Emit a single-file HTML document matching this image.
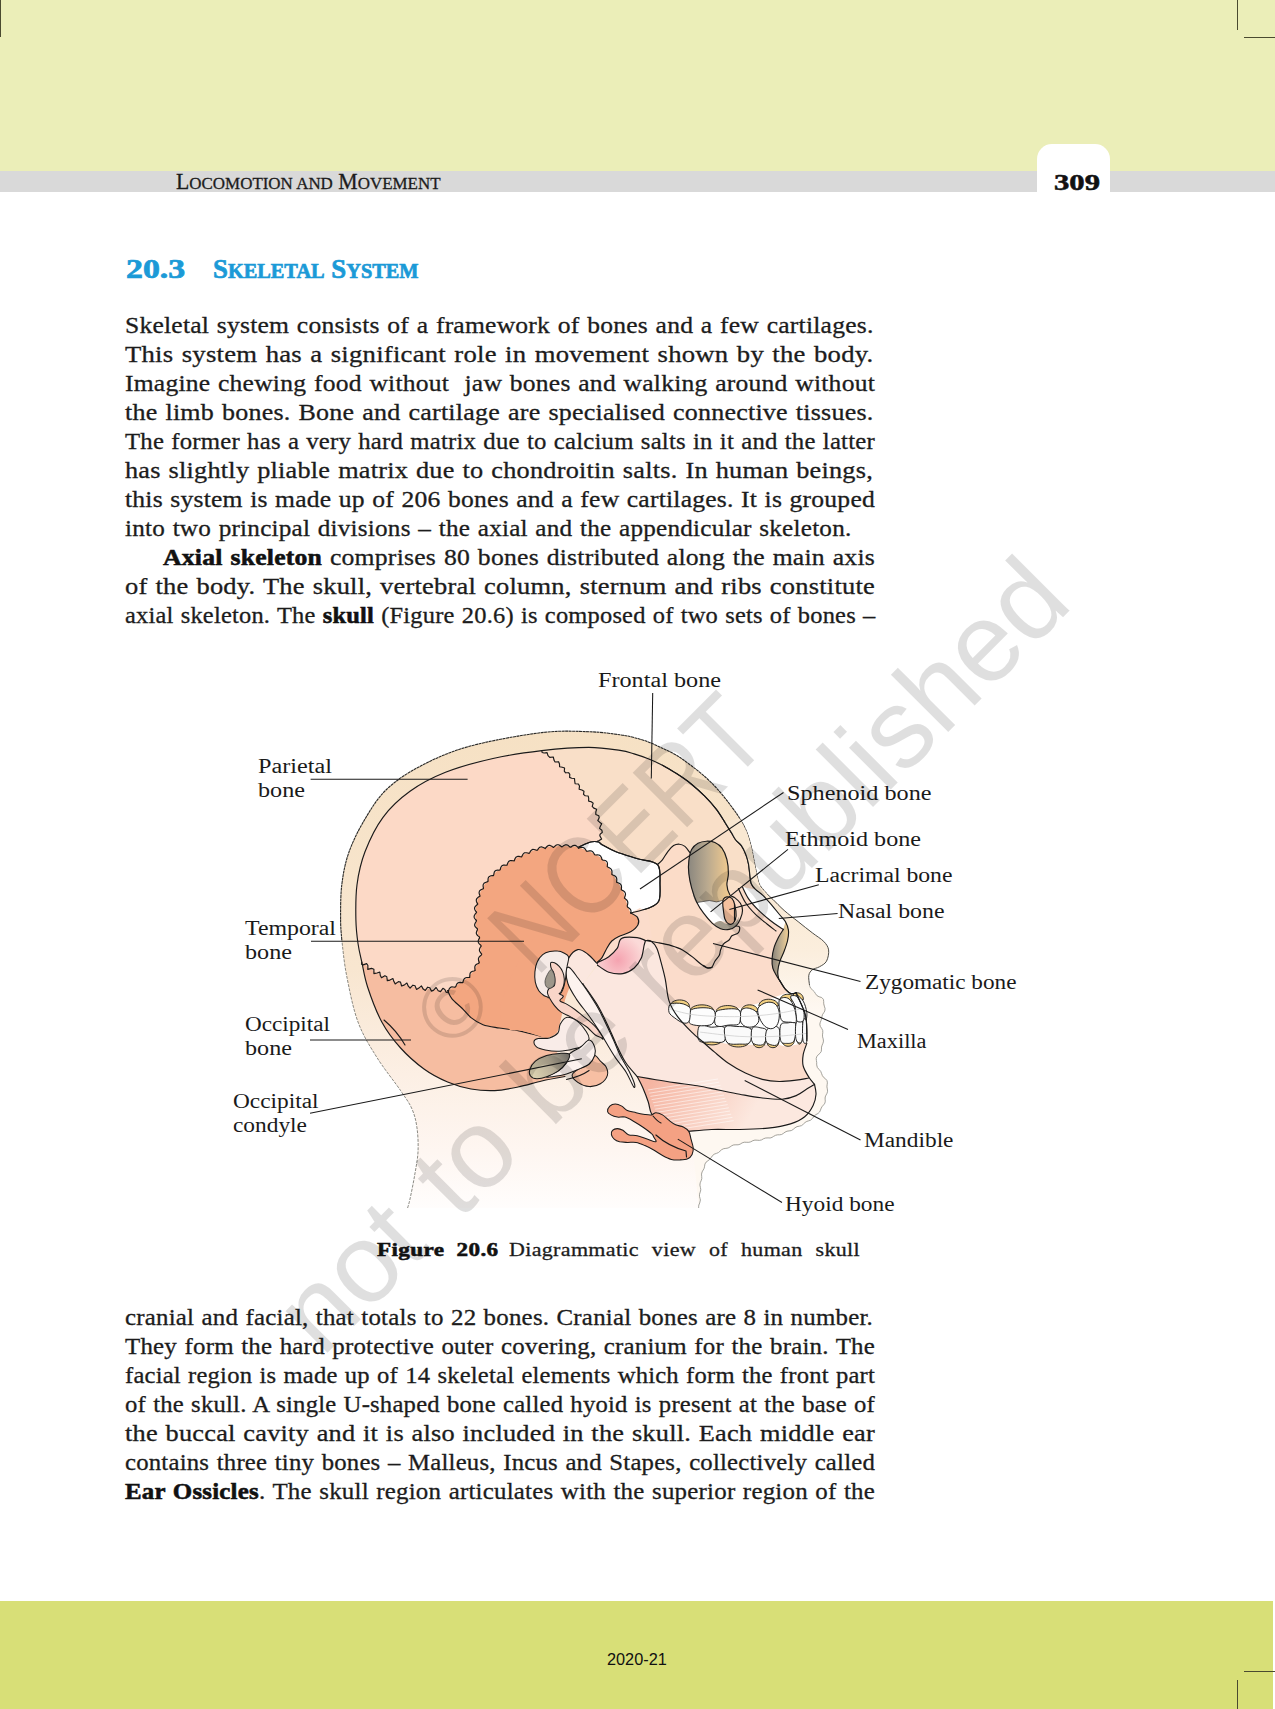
<!DOCTYPE html>
<html><head><meta charset="utf-8"><title>Locomotion and Movement</title>
<style>
html,body{margin:0;padding:0;background:#fff;}
body{width:1275px;height:1709px;position:relative;overflow:hidden;font-family:"Liberation Serif",serif;color:#1a1a1a;}
.abs{position:absolute;}
.ln{position:absolute;white-space:nowrap;line-height:29px;transform-origin:0 0;font-family:"Liberation Serif",serif;color:#1c1c1c;-webkit-text-stroke:0.3px #1c1c1c;}
.ln b{font-weight:bold;color:#111;-webkit-text-stroke:0.55px #111;}
#topband{left:0;top:0;width:1275px;height:171px;background:#ebeeb8;}
#grayband{left:0;top:171px;width:1275px;height:21px;background:#d9d9d9;}
#tab{left:1037px;top:144px;width:73px;height:50px;background:#fff;border-radius:15px 15px 0 0;}
#botband{left:0;top:1601px;width:1273px;height:108px;background:#d8df77;}
.cm{background:#4a4a30;}
svg text{font-family:"Liberation Serif",serif;}
</style></head><body>
<div class="abs" id="topband"></div>
<div class="abs" id="grayband"></div>
<div class="abs" id="tab"></div>
<div class="abs" id="botband"></div>
<div class="abs cm" style="left:0;top:0;width:1px;height:37px;"></div>
<div class="abs cm" style="left:1237px;top:0;width:1px;height:30px;"></div>
<div class="abs cm" style="left:1244px;top:37px;width:31px;height:1px;"></div>
<div class="abs cm" style="left:1244px;top:1671px;width:31px;height:1px;"></div>
<div class="abs cm" style="left:1237px;top:1680px;width:1px;height:29px;"></div>
<svg class="abs" id="fig" style="left:0;top:0" width="1275" height="1709" viewBox="0 0 1275 1709">
<defs>
<linearGradient id="gSkin" gradientUnits="userSpaceOnUse" x1="0" y1="730" x2="0" y2="1208">
<stop offset="0" stop-color="#f6e1c4"/><stop offset="0.5" stop-color="#f8e6d0"/><stop offset="0.72" stop-color="#fcefe4"/><stop offset="0.88" stop-color="#fef6f1"/><stop offset="1" stop-color="#fffdfc"/></linearGradient>
<linearGradient id="gOrb" gradientUnits="userSpaceOnUse" x1="690" y1="0" x2="728" y2="0">
<stop offset="0" stop-color="#8f8a80"/><stop offset="0.45" stop-color="#b9a98f"/><stop offset="1" stop-color="#efc98f"/></linearGradient>
<linearGradient id="gNas" gradientUnits="userSpaceOnUse" x1="770" y1="0" x2="788" y2="0">
<stop offset="0" stop-color="#7d7870"/><stop offset="0.5" stop-color="#b5a78e"/><stop offset="1" stop-color="#f0cf95"/></linearGradient>
<linearGradient id="gCond" gradientUnits="userSpaceOnUse" x1="530" y1="1075" x2="572" y2="1052">
<stop offset="0" stop-color="#e0d6b4"/><stop offset="0.5" stop-color="#b8ae98"/><stop offset="1" stop-color="#5f5d5a"/></linearGradient>
<radialGradient id="gDisc" gradientUnits="userSpaceOnUse" cx="618" cy="960" r="26">
<stop offset="0" stop-color="#f5a3b0"/><stop offset="1" stop-color="#fbdad8"/></radialGradient>
<linearGradient id="gBand" gradientUnits="userSpaceOnUse" x1="0" y1="880" x2="0" y2="1010">
<stop offset="0" stop-color="#f9e8d2"/><stop offset="0.55" stop-color="#fbeedd"/><stop offset="1" stop-color="#fef8f1"/></linearGradient>
<linearGradient id="gMus" gradientUnits="userSpaceOnUse" x1="650" y1="1085" x2="740" y2="1135">
<stop offset="0" stop-color="#f5b5a2"/><stop offset="1" stop-color="#fce8df"/></linearGradient>
</defs>
<path d="M407.6,1208.0C408.0,1206.5 408.8,1204.5 410.0,1199.0C411.2,1193.5 413.4,1182.8 414.7,1175.0C416.0,1167.2 417.6,1159.8 418.0,1152.0C418.4,1144.2 418.0,1135.2 417.0,1128.0C416.0,1120.8 414.7,1115.2 412.0,1109.0C409.3,1102.8 406.4,1099.2 400.6,1090.6C394.8,1082.0 384.1,1069.0 377.0,1057.6C369.9,1046.2 363.1,1035.8 358.0,1022.0C352.9,1008.2 349.2,988.7 346.5,975.0C343.8,961.3 342.8,949.2 341.8,940.0C340.8,930.8 340.6,929.2 340.6,920.0C340.6,910.8 340.4,896.0 341.8,884.7C343.2,873.4 345.1,863.0 349.0,852.0C352.9,841.0 358.7,829.5 365.0,819.0C371.3,808.5 377.5,798.0 387.0,789.0C396.5,780.0 408.2,772.4 422.0,765.3C435.8,758.2 449.5,751.8 469.5,746.3C489.5,740.8 521.7,735.0 541.8,732.6C561.9,730.2 577.0,731.4 590.0,731.8C603.0,732.2 612.6,733.8 620.0,734.8C627.4,735.8 629.4,736.4 634.1,737.6C638.8,738.8 643.5,740.1 648.2,741.9C652.9,743.7 657.7,746.0 662.4,748.2C667.1,750.4 671.8,752.5 676.5,755.3C681.2,758.1 688.2,763.6 690.6,765.2L704.7,776.5C707.1,778.9 714.6,785.9 718.8,790.6C723.0,795.3 726.6,800.0 730.1,804.7C733.6,809.4 737.2,814.1 740.0,818.8C742.8,823.5 745.2,828.2 747.1,832.9C749.0,837.6 750.1,842.4 751.3,847.1C752.5,851.8 753.1,856.5 754.1,861.2C755.1,865.9 756.0,871.3 757.0,875.3C758.0,879.3 758.2,882.1 759.8,885.2C761.4,888.3 764.6,891.3 766.8,893.7C769.0,896.1 770.1,896.7 773.0,899.5C775.9,902.3 779.9,906.7 784.1,910.4C788.3,914.1 793.5,918.0 798.2,921.7C802.9,925.5 808.1,929.6 812.4,932.9C816.6,936.2 821.0,938.6 823.7,941.4C826.4,944.2 828.1,946.6 828.6,949.9C829.1,953.2 828.0,958.4 826.5,961.2C825.0,964.0 821.8,965.4 819.4,966.8C817.0,968.2 814.2,968.3 812.4,969.7C810.6,971.1 809.3,972.7 808.8,975.3C808.3,977.9 808.4,982.1 809.5,985.2C810.6,988.3 813.0,991.3 815.2,993.7C817.5,996.1 821.5,996.7 823.0,999.6C824.5,1002.5 824.9,1007.1 824.4,1010.9C823.9,1014.7 820.4,1018.2 820.2,1022.2C820.0,1026.2 822.8,1030.4 823.0,1034.9C823.2,1039.4 822.8,1044.8 821.6,1049.1C820.4,1053.3 816.2,1056.7 816.0,1060.4C815.8,1064.2 818.3,1067.8 820.2,1071.6C822.1,1075.3 826.3,1078.7 827.2,1082.9C828.1,1087.2 826.7,1092.8 825.8,1097.1C824.9,1101.3 824.2,1104.6 821.6,1108.4C819.0,1112.2 815.7,1116.0 810.3,1119.7C804.9,1123.5 796.1,1127.9 789.1,1130.9C782.1,1134.0 775.0,1136.1 768.0,1138.0C761.0,1139.9 753.1,1140.8 746.8,1142.2C740.5,1143.7 735.1,1144.9 730.0,1146.7C724.9,1148.5 720.4,1150.4 716.3,1153.3C712.2,1156.2 707.9,1159.7 705.3,1164.3C702.7,1168.9 701.8,1174.8 700.9,1180.8C700.0,1186.8 700.1,1195.5 699.8,1200.0C699.5,1204.5 699.1,1206.7 699.0,1208.0Z" fill="url(#gSkin)"/>
<path d="M407.6,1208.0C408.0,1206.5 408.8,1204.5 410.0,1199.0C411.2,1193.5 413.4,1182.8 414.7,1175.0C416.0,1167.2 417.6,1159.8 418.0,1152.0C418.4,1144.2 418.0,1135.2 417.0,1128.0C416.0,1120.8 414.7,1115.2 412.0,1109.0C409.3,1102.8 406.4,1099.2 400.6,1090.6C394.8,1082.0 384.1,1069.0 377.0,1057.6C369.9,1046.2 363.1,1035.8 358.0,1022.0C352.9,1008.2 349.2,988.7 346.5,975.0C343.8,961.3 342.6,945.8 341.8,940.0" fill="none" stroke="#6d6d66" stroke-width="0.8" stroke-dasharray="3 1.2"/>
<path d="M341.8,940.0C341.6,936.7 340.6,929.2 340.6,920.0C340.6,910.8 340.4,896.0 341.8,884.7C343.2,873.4 345.1,863.0 349.0,852.0C352.9,841.0 358.7,829.5 365.0,819.0C371.3,808.5 377.5,798.0 387.0,789.0C396.5,780.0 408.2,772.4 422.0,765.3C435.8,758.2 449.5,751.8 469.5,746.3C489.5,740.8 521.7,735.0 541.8,732.6C561.9,730.2 577.0,731.4 590.0,731.8C603.0,732.2 612.6,733.8 620.0,734.8C627.4,735.8 629.4,736.4 634.1,737.6C638.8,738.8 643.5,740.1 648.2,741.9C652.9,743.7 657.7,746.0 662.4,748.2C667.1,750.4 671.8,752.5 676.5,755.3C681.2,758.1 685.9,761.7 690.6,765.2C695.3,768.7 700.0,772.3 704.7,776.5C709.4,780.7 714.6,785.9 718.8,790.6C723.0,795.3 726.6,800.0 730.1,804.7C733.6,809.4 737.2,814.1 740.0,818.8C742.8,823.5 745.2,828.2 747.1,832.9C749.0,837.6 750.1,842.4 751.3,847.1C752.5,851.8 753.1,856.5 754.1,861.2C755.1,865.9 756.0,871.3 757.0,875.3C758.0,879.3 758.2,882.1 759.8,885.2C761.4,888.3 765.6,892.3 766.8,893.7" fill="none" stroke="#2a2a28" stroke-width="1.1" stroke-dasharray="3 0.5"/>
<path d="M361.8,962.0C361.2,958.9 359.0,950.5 358.0,943.5C357.0,936.5 356.1,929.8 355.9,920.0C355.7,910.2 355.5,896.1 357.0,884.7C358.5,873.3 360.7,863.0 365.0,851.8C369.3,840.6 375.5,827.4 383.0,817.3C390.5,807.2 399.6,798.8 410.0,791.3C420.4,783.8 431.7,777.8 445.5,772.3C459.3,766.8 476.9,762.1 493.0,758.5C509.1,754.9 533.7,751.9 541.8,750.6L541.8,750.6C544.1,752.3 552.0,757.7 555.9,761.0C559.8,764.3 561.9,767.3 565.0,770.6C568.1,773.9 571.7,777.4 574.7,781.0C577.7,784.6 580.3,788.5 583.0,792.0C585.7,795.5 588.7,798.3 591.0,802.0C593.3,805.7 595.4,810.0 597.0,814.0C598.6,818.0 599.9,822.3 600.6,826.0C601.3,829.7 601.4,833.3 601.0,836.0C600.6,838.7 598.9,841.0 598.5,842.0L598.5,842.0C597.2,842.0 593.9,841.2 590.6,842.0C587.3,842.8 580.8,846.2 578.8,847.0L578.8,847.0C575.8,846.8 566.8,845.7 560.6,845.9C554.4,846.1 548.1,846.5 541.8,848.0C535.5,849.5 529.3,852.0 523.0,855.0C516.7,858.0 509.5,862.1 504.0,865.9C498.5,869.7 493.9,873.3 490.0,877.6C486.1,881.9 483.0,886.7 480.6,891.8C478.2,896.9 476.7,902.5 475.9,908.0C475.1,913.5 475.3,919.2 475.9,924.7C476.5,930.2 478.6,936.0 479.4,941.0C480.2,946.0 481.2,950.7 480.6,955.0C480.0,959.3 477.9,963.4 475.9,967.0C473.9,970.6 471.6,973.8 468.8,976.5C466.1,979.2 462.9,981.1 459.4,983.5C455.9,985.9 449.6,989.4 447.6,990.6L447.6,990.6C445.2,990.4 439.0,990.0 433.5,989.4C428.0,988.8 421.0,988.2 414.7,987.0C408.4,985.8 402.2,984.3 395.9,982.0C389.6,979.7 382.7,976.3 377.0,973.0C371.3,969.7 364.3,963.8 361.8,962.0Z" fill="#fcd9c6"/>
<path d="M565.0,1076.5C561.1,1077.2 549.6,1079.2 541.8,1081.0C534.0,1082.8 525.9,1085.4 518.0,1087.0C510.1,1088.6 502.5,1090.3 494.7,1090.6C486.9,1090.9 478.9,1090.4 471.0,1089.0C463.1,1087.6 455.4,1085.3 447.6,1082.0C439.8,1078.7 431.8,1074.7 424.0,1069.0C416.2,1063.3 407.6,1055.8 400.6,1048.0C393.6,1040.2 387.3,1032.2 381.8,1022.0C376.3,1011.8 370.9,997.0 367.6,987.0C364.3,977.0 362.8,966.2 361.8,962.0L361.8,962.0C364.3,963.8 371.3,969.7 377.0,973.0C382.7,976.3 389.6,979.7 395.9,982.0C402.2,984.3 408.4,985.8 414.7,987.0C421.0,988.2 428.0,988.8 433.5,989.4C439.0,990.0 445.2,990.4 447.6,990.6L447.6,990.6C448.3,992.0 449.6,995.9 452.0,998.8C454.4,1001.7 458.6,1004.9 461.8,1008.0C465.0,1011.1 467.5,1014.8 471.0,1017.6C474.5,1020.4 478.3,1023.0 483.0,1024.7C487.7,1026.4 493.6,1027.0 499.4,1028.0C505.2,1029.0 512.6,1029.6 518.0,1030.6C523.4,1031.6 528.0,1033.0 532.0,1034.0C536.0,1035.0 540.2,1036.1 541.8,1036.5L541.8,1036.5C544.2,1038.8 552.1,1043.3 556.0,1050.0C559.9,1056.7 563.5,1072.1 565.0,1076.5Z" fill="#f6bda1"/>
<path d="M541.8,750.6C549.6,750.0 575.8,747.3 588.8,747.3C601.8,747.3 612.5,749.3 620.0,750.4C627.5,751.5 629.4,752.5 634.1,753.9C638.8,755.3 643.5,756.9 648.2,758.8C652.9,760.7 657.7,762.7 662.4,765.2C667.1,767.7 671.8,770.6 676.5,773.6C681.2,776.6 685.9,779.7 690.6,783.5C695.3,787.3 700.5,792.0 704.7,796.2C708.9,800.4 712.7,804.7 716.0,808.9C719.3,813.1 723.1,819.5 724.5,821.6L724.5,821.6C725.7,823.5 729.6,829.8 731.5,832.9C733.4,836.0 734.1,837.9 735.8,840.0C737.4,842.1 739.8,843.2 741.4,845.6C743.0,848.0 744.5,851.0 745.7,854.1C746.9,857.2 747.8,860.5 748.5,864.0C749.2,867.5 749.4,872.0 749.9,875.3C750.4,878.6 750.4,881.4 751.3,883.8C752.2,886.1 753.6,887.5 755.5,889.4C757.4,891.3 760.2,892.8 762.6,895.1C765.0,897.4 767.1,899.8 770.0,903.1C772.9,906.4 777.3,911.9 779.9,915.0C782.5,918.1 784.1,919.2 785.5,921.7C786.9,924.2 788.0,927.1 788.4,930.1C788.8,933.1 788.4,936.5 787.7,940.0C787.0,943.5 785.4,947.8 784.1,951.3C782.8,954.8 781.0,957.9 779.9,961.2C778.8,964.5 778.0,968.3 777.8,971.1C777.6,973.9 778.1,976.5 778.5,978.1C778.9,979.7 778.7,979.0 779.9,980.9C781.1,982.8 783.6,987.3 785.5,989.4C787.4,991.5 789.4,993.2 791.2,993.7C793.0,994.2 795.4,992.8 796.2,992.6L795.0,993.0C785.8,994.2 760.5,998.5 740.0,1000.0C719.5,1001.5 685.3,1008.7 672.0,1002.0C658.7,995.3 665.3,971.2 660.0,960.0C654.7,948.8 644.9,942.8 640.0,935.0C635.1,927.2 632.2,916.7 630.6,913.0L630.6,913.0C633.7,912.2 644.3,910.0 649.0,908.0C653.7,906.0 657.0,904.9 658.8,901.0C660.6,897.1 660.2,890.8 660.0,884.7C659.8,878.7 661.3,869.0 657.6,864.7C653.9,860.4 644.5,860.9 637.6,858.8C630.7,856.6 621.9,854.1 616.0,851.8C610.1,849.4 604.9,846.3 602.0,844.7C599.1,843.1 599.1,842.5 598.5,842.0L598.5,842.0C598.9,841.0 600.6,838.7 601.0,836.0C601.4,833.3 601.3,829.7 600.6,826.0C599.9,822.3 598.6,818.0 597.0,814.0C595.4,810.0 593.3,805.7 591.0,802.0C588.7,798.3 585.7,795.5 583.0,792.0C580.3,788.5 577.7,784.6 574.7,781.0C571.7,777.4 568.1,773.9 565.0,770.6C561.9,767.3 559.8,764.3 555.9,761.0C552.0,757.7 544.1,752.3 541.8,750.6Z" fill="#fbdcc8"/>
<path d="M541.8,750.6C549.6,750.0 575.8,747.3 588.8,747.3C601.8,747.3 612.5,749.3 620.0,750.4C627.5,751.5 629.4,752.5 634.1,753.9C638.8,755.3 643.5,756.9 648.2,758.8C652.9,760.7 657.7,762.7 662.4,765.2C667.1,767.7 671.8,770.6 676.5,773.6C681.2,776.6 685.9,779.7 690.6,783.5C695.3,787.3 700.5,792.0 704.7,796.2C708.9,800.4 712.7,804.7 716.0,808.9C719.3,813.1 723.1,819.5 724.5,821.6L724.5,821.6C725.7,823.5 729.6,829.8 731.5,832.9C733.4,836.0 734.1,837.9 735.8,840.0C737.4,842.1 739.8,843.2 741.4,845.6C743.0,848.0 744.5,851.0 745.7,854.1C746.9,857.2 747.8,860.5 748.5,864.0C749.2,867.5 749.4,872.0 749.9,875.3C750.4,878.6 751.1,882.4 751.3,883.8L742.8,885.2C741.9,885.8 739.2,887.4 737.2,888.7C735.2,890.0 732.0,892.3 731.0,893.0L729.8,894.8C729.3,893.1 727.1,888.4 726.9,884.9C726.7,881.4 728.4,877.8 728.4,873.6C728.4,869.4 728.0,863.7 726.9,859.5C725.8,855.3 724.0,851.0 722.0,848.2C720.0,845.4 717.5,843.8 714.9,842.6C712.3,841.4 709.3,841.1 706.5,841.2C703.7,841.3 700.5,841.9 698.0,843.3C695.5,844.7 693.0,848.0 691.6,849.6C690.2,851.2 690.2,852.2 689.9,852.7L689.9,852.7C689.1,851.7 686.7,847.8 684.9,846.4C683.1,845.0 681.2,844.3 679.3,844.2C677.4,844.1 675.5,844.4 673.6,845.6C671.7,846.8 669.9,848.9 668.0,851.3C666.1,853.7 664.2,857.6 662.4,859.8C660.6,862.0 658.2,863.9 657.4,864.7L657.6,864.7C654.3,863.7 644.5,860.9 637.6,858.8C630.7,856.6 621.9,854.1 616.0,851.8C610.1,849.4 604.9,846.3 602.0,844.7C599.1,843.1 599.1,842.5 598.5,842.0L598.5,842.0C598.9,841.0 600.6,838.7 601.0,836.0C601.4,833.3 601.3,829.7 600.6,826.0C599.9,822.3 598.6,818.0 597.0,814.0C595.4,810.0 593.3,805.7 591.0,802.0C588.7,798.3 585.7,795.5 583.0,792.0C580.3,788.5 577.7,784.6 574.7,781.0C571.7,777.4 568.1,773.9 565.0,770.6C561.9,767.3 559.8,764.3 555.9,761.0C552.0,757.7 544.1,752.3 541.8,750.6Z" fill="#f9dfc8"/>
<path d="M447.6,990.6C449.6,989.4 455.9,985.9 459.4,983.5C462.9,981.1 466.1,979.2 468.8,976.5C471.6,973.8 473.9,970.6 475.9,967.0C477.9,963.4 480.0,959.3 480.6,955.0C481.2,950.7 480.2,946.0 479.4,941.0C478.6,936.0 476.5,930.2 475.9,924.7C475.3,919.2 475.1,913.5 475.9,908.0C476.7,902.5 478.2,896.9 480.6,891.8C483.0,886.7 486.1,881.9 490.0,877.6C493.9,873.3 498.5,869.7 504.0,865.9C509.5,862.1 516.7,858.0 523.0,855.0C529.3,852.0 535.5,849.5 541.8,848.0C548.1,846.5 554.4,846.1 560.6,845.9C566.8,845.7 575.8,846.8 578.8,847.0L578.8,847.0C581.5,848.2 590.7,851.7 595.0,854.0C599.3,856.3 602.1,858.2 604.7,861.0C607.3,863.8 608.6,867.4 610.6,870.6C612.6,873.8 614.4,876.5 616.5,880.0C618.6,883.5 621.8,887.9 623.5,891.8C625.2,895.7 625.8,900.0 627.0,903.5C628.2,907.0 630.0,911.4 630.6,913.0L630.6,913.0C631.8,913.8 636.4,915.6 637.6,917.6C638.8,919.6 639.2,922.3 638.0,924.7C636.8,927.1 633.8,929.8 630.6,931.8C627.4,933.8 621.9,935.0 618.8,936.5C615.7,938.0 613.8,939.1 611.8,941.0C609.8,942.9 608.6,945.2 607.0,948.0C605.4,950.8 603.6,955.3 602.0,957.6C600.4,959.9 598.3,961.3 597.6,962.0L597.6,962.0C595.5,961.3 588.8,955.8 585.0,958.0C581.2,960.2 578.3,968.0 575.0,975.0C571.7,982.0 567.5,992.2 565.0,1000.0C562.5,1007.8 562.3,1016.3 560.0,1022.0C557.7,1027.7 554.0,1031.6 551.0,1034.0C548.0,1036.4 543.3,1036.1 541.8,1036.5L541.8,1036.5C540.2,1036.1 536.0,1035.0 532.0,1034.0C528.0,1033.0 523.4,1031.6 518.0,1030.6C512.6,1029.6 505.2,1029.0 499.4,1028.0C493.6,1027.0 487.7,1026.4 483.0,1024.7C478.3,1023.0 474.5,1020.4 471.0,1017.6C467.5,1014.8 465.0,1011.1 461.8,1008.0C458.6,1004.9 454.4,1001.7 452.0,998.8C449.6,995.9 448.3,992.0 447.6,990.6Z" fill="#f3a680"/>
<path d="M578.8,847.0C580.8,846.2 587.3,842.8 590.6,842.0C593.9,841.2 596.6,841.5 598.5,842.0C600.4,842.5 599.1,843.1 602.0,844.7C604.9,846.3 610.1,849.4 616.0,851.8C621.9,854.1 630.7,856.6 637.6,858.8C644.5,860.9 653.9,860.4 657.6,864.7C661.3,869.0 659.8,878.7 660.0,884.7C660.2,890.8 660.6,897.1 658.8,901.0C657.0,904.9 653.7,906.0 649.0,908.0C644.3,910.0 633.7,912.2 630.6,913.0L630.6,913.0C630.0,911.4 628.2,907.0 627.0,903.5C625.8,900.0 625.2,895.7 623.5,891.8C621.8,887.9 618.6,883.5 616.5,880.0C614.4,876.5 612.6,873.8 610.6,870.6C608.6,867.4 607.3,863.8 604.7,861.0C602.1,858.2 599.3,856.3 595.0,854.0C590.7,851.7 581.5,848.2 578.8,847.0Z" fill="#ffffff"/>
<path d="M565.0,1076.5C561.1,1077.2 549.6,1079.2 541.8,1081.0C534.0,1082.8 525.9,1085.4 518.0,1087.0C510.1,1088.6 502.5,1090.3 494.7,1090.6C486.9,1090.9 478.9,1090.4 471.0,1089.0C463.1,1087.6 455.4,1085.3 447.6,1082.0C439.8,1078.7 431.8,1074.7 424.0,1069.0C416.2,1063.3 407.6,1055.8 400.6,1048.0C393.6,1040.2 387.3,1032.2 381.8,1022.0C376.3,1011.8 370.9,997.0 367.6,987.0C364.3,977.0 363.4,969.2 361.8,962.0C360.2,954.8 359.0,950.5 358.0,943.5C357.0,936.5 356.1,929.8 355.9,920.0C355.7,910.2 355.5,896.1 357.0,884.7C358.5,873.3 360.7,863.0 365.0,851.8C369.3,840.6 375.5,827.4 383.0,817.3C390.5,807.2 399.6,798.8 410.0,791.3C420.4,783.8 431.7,777.8 445.5,772.3C459.3,766.8 476.9,762.1 493.0,758.5C509.1,754.9 525.8,752.5 541.8,750.6C557.8,748.7 575.8,747.3 588.8,747.3C601.8,747.3 612.5,749.3 620.0,750.4C627.5,751.5 629.4,752.5 634.1,753.9C638.8,755.3 643.5,756.9 648.2,758.8C652.9,760.7 657.7,762.7 662.4,765.2C667.1,767.7 671.8,770.6 676.5,773.6C681.2,776.6 685.9,779.7 690.6,783.5C695.3,787.3 700.5,792.0 704.7,796.2C708.9,800.4 712.7,804.7 716.0,808.9C719.3,813.1 723.1,819.5 724.5,821.6" stroke="#1a1a1a" stroke-width="1.15" fill="none" stroke-linejoin="round" stroke-linecap="round"/>
<path d="M724.5,821.6C725.7,823.5 729.6,829.8 731.5,832.9C733.4,836.0 734.1,837.9 735.8,840.0C737.4,842.1 739.8,843.2 741.4,845.6C743.0,848.0 744.5,851.0 745.7,854.1C746.9,857.2 747.8,860.5 748.5,864.0C749.2,867.5 749.4,872.0 749.9,875.3C750.4,878.6 750.4,881.4 751.3,883.8C752.2,886.1 753.6,887.5 755.5,889.4C757.4,891.3 760.2,892.8 762.6,895.1C765.0,897.4 767.1,899.8 770.0,903.1C772.9,906.4 777.3,911.9 779.9,915.0C782.5,918.1 784.1,919.2 785.5,921.7C786.9,924.2 788.0,927.1 788.4,930.1C788.8,933.1 788.4,936.5 787.7,940.0C787.0,943.5 785.4,947.8 784.1,951.3C782.8,954.8 781.0,957.9 779.9,961.2C778.8,964.5 778.0,968.3 777.8,971.1C777.6,973.9 778.1,976.5 778.5,978.1C778.9,979.7 778.7,979.0 779.9,980.9C781.1,982.8 783.6,987.3 785.5,989.4C787.4,991.5 789.4,993.2 791.2,993.7C793.0,994.2 795.4,992.8 796.2,992.6" stroke="#1a1a1a" stroke-width="1.15" fill="none" stroke-linejoin="round" stroke-linecap="round"/>
<path d="M541.8,750.6L542.1,752.5L544.1,753.0L547.1,752.6L548.0,755.6L549.8,757.4L553.3,757.0L554.0,760.1L555.1,762.0L558.6,761.7L559.5,764.0L559.6,766.8L562.3,767.2L564.6,768.0L564.3,771.2L565.6,772.8L568.6,772.7L569.8,774.4L569.6,777.4L571.7,778.2L574.5,778.5L574.7,781.0L575.1,783.7L578.4,784.0L579.5,786.1L579.1,789.3L581.9,790.0L584.0,791.2L583.5,794.4L585.2,795.8L588.2,796.0L588.7,798.4L588.6,801.1L591.3,801.8L593.2,803.2L592.2,806.4L593.8,808.1L596.6,809.3L595.8,812.1L595.8,814.5L598.8,815.7L599.2,817.8L597.8,820.5L599.6,822.2L601.7,823.8L600.5,826.0L599.5,828.4L601.9,830.3L602.3,832.4L600.1,834.2L599.8,835.8L601.6,839.0L599.2,840.6L597.2,841.3" stroke="#1a1a1a" stroke-width="1.15" fill="none" stroke-linejoin="round" stroke-linecap="round" stroke-width="0.9"/>
<path d="M361.8,962.0L361.6,964.3L363.2,964.9L366.6,963.6L367.9,965.5L367.8,969.4L371.6,968.4L373.9,969.3L373.9,973.6L377.0,973.0L379.8,972.1L380.3,975.5L381.5,977.7L384.9,975.7L386.8,976.7L387.3,980.6L389.9,980.1L392.9,978.5L393.9,981.6L395.2,984.0L398.4,981.6L400.5,982.1L401.6,986.0L404.1,985.1L406.9,983.0L408.3,986.2L410.1,988.1L412.9,985.2L415.0,985.7L416.5,989.4L418.9,988.1L421.4,985.9L423.2,989.1L425.3,990.4L427.7,987.2L429.8,987.8L431.4,991.1L433.4,990.4L436.1,987.5L438.2,990.7L440.5,991.6L442.9,988.3L444.8,989.4L446.2,992.2L447.4,992.6" stroke="#1a1a1a" stroke-width="1.15" fill="none" stroke-linejoin="round" stroke-linecap="round" stroke-width="0.9"/>
<path d="M448.3,991.7L448.5,990.9L448.8,989.9L449.2,988.9L449.9,988.0L450.7,987.3L451.9,986.9L453.3,987.0L454.9,987.3L455.9,986.4L456.4,984.9L457.0,983.7L457.8,983.0L458.8,982.6L460.1,982.4L461.5,982.6L462.9,982.6L463.2,981.2L463.6,979.9L464.1,978.9L464.9,978.2L465.8,977.8L466.9,977.5L468.3,977.5L469.7,977.4L469.8,975.9L469.9,974.6L470.1,973.4L470.6,972.5L471.5,971.8L472.6,971.3L473.9,971.0L475.2,970.5L474.9,969.0L474.8,967.6L474.9,966.4L475.3,965.5L476.0,964.7L477.0,964.0L478.3,963.5L479.3,962.7L478.8,961.3L478.5,960.0L478.4,958.9L478.7,957.8L479.3,956.9L480.2,956.0L481.3,955.1L481.7,954.2L480.9,953.1L480.2,952.2L479.7,951.3L479.4,950.3L479.5,949.4L479.8,948.3L480.4,947.3L481.2,946.1L480.7,945.1L479.7,944.2L478.8,943.3L478.3,942.3L478.2,941.2L478.4,940.2L478.9,939.1L479.6,937.9L479.4,936.9L478.3,936.1L477.3,935.3L476.7,934.4L476.3,933.3L476.4,932.2L476.8,931.0L477.5,929.7L477.4,928.7L476.3,927.8L475.4,926.9L474.8,925.9L474.6,924.8L474.9,923.8L475.4,922.7L476.2,921.5L476.5,920.5L475.5,919.5L474.7,918.5L474.2,917.4L474.1,916.4L474.4,915.3L475.1,914.2L476.0,913.2L476.6,912.2L475.7,911.1L475.0,910.0L474.6,908.9L474.6,907.8L475.0,906.8L475.8,905.9L476.8,905.0L477.8,904.1L477.1,902.9L476.5,901.7L476.3,900.5L476.4,899.4L477.0,898.4L477.8,897.6L479.0,896.8L480.1,896.1L479.6,894.8L479.2,893.5L479.1,892.3L479.4,891.3L480.0,890.4L480.9,889.8L482.1,889.2L483.4,888.8L483.4,887.7L483.1,886.4L483.1,885.2L483.4,884.2L484.0,883.3L484.8,882.7L486.0,882.2L487.3,881.9L488.1,881.3L488.0,880.0L488.1,878.7L488.4,877.6L489.0,876.7L489.9,876.2L490.9,875.8L492.2,875.6L493.5,875.6L493.8,874.6L494.0,873.3L494.3,872.1L494.8,871.2L495.6,870.6L496.6,870.2L497.8,870.1L499.2,870.2L500.2,869.8L500.5,868.4L500.9,867.2L501.5,866.2L502.4,865.5L503.5,865.1L504.6,865.1L505.9,865.2L507.1,865.2L507.4,863.9L507.9,862.7L508.5,861.7L509.3,861.0L510.3,860.6L511.6,860.5L512.9,860.8L514.3,860.9L514.7,859.5L515.2,858.3L515.9,857.3L516.8,856.7L517.9,856.4L519.1,856.4L520.4,856.7L521.7,856.9L522.2,855.7L522.8,854.5L523.5,853.6L524.3,852.9L525.4,852.7L526.5,852.7L527.8,853.0L529.1,853.5L529.8,852.5L530.4,851.4L531.1,850.4L532.0,849.8L532.9,849.4L534.0,849.5L535.2,849.8L536.4,850.3L537.4,850.2L538.1,849.1L538.8,848.1L539.6,847.4L540.5,847.0L541.5,846.9L542.7,847.2L543.9,847.8L545.2,848.6L546.0,847.5L547.0,846.5L547.9,845.7L549.0,845.4L550.1,845.4L551.2,845.9L552.3,846.6L553.4,847.5L554.4,846.6L555.4,845.7L556.4,845.0L557.4,844.7L558.5,844.8L559.6,845.3L560.6,846.0L561.7,846.9L562.7,846.4L563.9,845.5L565.1,844.9L566.3,844.7L567.4,845.0L568.6,845.8L569.7,846.9L570.8,847.2L572.0,846.3L573.1,845.6L574.2,845.4L575.2,845.4L576.1,845.8L576.9,846.4L577.6,847.0L578.2,847.7L578.7,848.2" stroke="#1a1a1a" stroke-width="1.15" fill="none" stroke-linejoin="round" stroke-linecap="round" stroke-width="0.9"/>
<path d="M578.3,848.1L579.1,847.9L579.9,847.6L580.9,847.4L582.0,847.3L583.0,847.5L584.0,847.9L584.9,848.7L585.7,849.8L586.5,851.2L587.8,851.2L589.3,850.8L590.6,850.8L591.8,851.1L592.7,851.8L593.5,852.7L594.1,853.7L594.6,854.8L595.9,855.0L597.4,854.8L598.7,855.0L599.8,855.4L600.7,856.2L601.3,857.2L601.7,858.3L601.9,859.6L602.8,860.1L604.1,860.2L605.2,860.5L606.2,861.1L607.0,861.9L607.4,862.9L607.5,864.1L607.4,865.3L607.2,866.6L608.2,867.2L609.3,867.8L610.3,868.4L611.1,869.1L611.6,870.0L611.9,871.0L612.0,872.1L611.9,873.3L611.8,874.5L612.8,875.0L614.0,875.4L615.0,876.0L615.8,876.7L616.4,877.5L616.7,878.6L616.8,879.8L616.7,881.0L616.6,882.3L617.9,882.7L619.1,883.2L620.1,883.8L620.9,884.7L621.4,885.7L621.5,886.8L621.5,888.1L621.3,889.5L622.1,890.2L623.3,890.8L624.2,891.5L625.0,892.4L625.4,893.4L625.5,894.5L625.2,895.7L624.8,896.9L624.4,898.1L625.4,898.9L626.4,899.7L627.1,900.5L627.6,901.4L627.8,902.3L627.8,903.2L627.6,904.5L627.2,905.9L627.5,907.1L628.8,907.9L629.8,908.7L630.5,909.6L630.9,910.5L631.0,911.4L630.9,912.2L630.8,912.9" stroke="#1a1a1a" stroke-width="1.15" fill="none" stroke-linejoin="round" stroke-linecap="round" stroke-width="0.9"/>
<path d="M630.6,913.0C631.8,913.8 636.4,915.6 637.6,917.6C638.8,919.6 639.2,922.3 638.0,924.7C636.8,927.1 633.8,929.8 630.6,931.8C627.4,933.8 621.9,935.0 618.8,936.5C615.7,938.0 613.8,939.1 611.8,941.0C609.8,942.9 608.6,945.2 607.0,948.0C605.4,950.8 603.6,955.3 602.0,957.6C600.4,959.9 598.3,961.3 597.6,962.0" stroke="#1a1a1a" stroke-width="1.15" fill="none" stroke-linejoin="round" stroke-linecap="round"/>
<path d="M447.6,990.6C448.3,992.0 449.6,995.9 452.0,998.8C454.4,1001.7 458.6,1004.9 461.8,1008.0C465.0,1011.1 467.5,1014.8 471.0,1017.6C474.5,1020.4 478.3,1023.0 483.0,1024.7C487.7,1026.4 493.6,1027.0 499.4,1028.0C505.2,1029.0 512.6,1029.6 518.0,1030.6C523.4,1031.6 528.0,1033.0 532.0,1034.0C536.0,1035.0 540.2,1036.1 541.8,1036.5" stroke="#1a1a1a" stroke-width="1.15" fill="none" stroke-linejoin="round" stroke-linecap="round"/>
<path d="M578.8,847.0C580.8,846.2 587.3,842.8 590.6,842.0C593.9,841.2 596.6,841.5 598.5,842.0C600.4,842.5 599.1,843.1 602.0,844.7C604.9,846.3 610.1,849.4 616.0,851.8C621.9,854.1 630.7,856.6 637.6,858.8C644.5,860.9 653.9,860.4 657.6,864.7C661.3,869.0 659.8,878.7 660.0,884.7C660.2,890.8 660.6,897.1 658.8,901.0C657.0,904.9 653.7,906.0 649.0,908.0C644.3,910.0 633.7,912.2 630.6,913.0" stroke="#1a1a1a" stroke-width="1.15" fill="none" stroke-linejoin="round" stroke-linecap="round"/>
<path d="M724.5,821.6C725.7,823.5 729.6,829.8 731.5,832.9C733.4,836.0 734.1,837.9 735.8,840.0C737.4,842.1 739.8,843.2 741.4,845.6C743.0,848.0 744.5,851.0 745.7,854.1C746.9,857.2 747.8,860.5 748.5,864.0C749.2,867.5 749.4,872.0 749.9,875.3C750.4,878.6 750.4,881.4 751.3,883.8C752.2,886.1 753.6,887.5 755.5,889.4C757.4,891.3 760.2,892.8 762.6,895.1C765.0,897.4 767.1,899.8 770.0,903.1C772.9,906.4 777.3,911.9 779.9,915.0C782.5,918.1 784.1,919.2 785.5,921.7C786.9,924.2 788.0,927.1 788.4,930.1C788.8,933.1 788.4,936.5 787.7,940.0C787.0,943.5 785.4,947.8 784.1,951.3C782.8,954.8 781.0,957.9 779.9,961.2C778.8,964.5 778.0,968.3 777.8,971.1C777.6,973.9 778.4,976.9 778.5,978.1L779.9,980.9C780.8,982.3 783.6,987.3 785.5,989.4C787.4,991.5 789.4,993.2 791.2,993.7C793.0,994.2 795.4,992.8 796.2,992.6L796.2,992.6C797.1,994.7 800.1,1001.1 801.8,1005.3C803.4,1009.5 805.3,1012.1 806.1,1018.0C806.9,1023.9 806.7,1036.8 806.8,1040.6L806.8,1043.4C806.2,1045.3 803.8,1050.9 803.2,1054.7C802.6,1058.5 802.2,1062.2 803.2,1066.0C804.2,1069.8 807.0,1074.2 808.9,1077.3C810.8,1080.4 813.6,1083.2 814.5,1084.4L814.5,1084.4C814.8,1086.0 816.2,1090.7 816.0,1094.2C815.8,1097.7 815.0,1101.7 813.1,1105.5C811.2,1109.3 808.5,1113.7 804.7,1116.8C800.9,1119.9 796.6,1122.0 790.5,1123.9C784.4,1125.8 776.5,1127.2 768.0,1128.1C759.5,1129.0 749.1,1129.3 739.7,1129.5C730.3,1129.7 719.8,1129.2 711.5,1129.5C703.2,1129.8 693.1,1128.0 690.0,1131.4C686.9,1134.8 691.5,1137.2 693.0,1150.0C694.5,1162.8 698.0,1198.3 699.0,1208.0L699.0,1208.0C699.1,1206.7 699.5,1204.5 699.8,1200.0C700.1,1195.5 700.0,1186.8 700.9,1180.8C701.8,1174.8 702.7,1168.9 705.3,1164.3C707.9,1159.7 712.2,1156.2 716.3,1153.3C720.4,1150.4 724.9,1148.5 730.0,1146.7C735.1,1144.9 740.5,1143.7 746.8,1142.2C753.1,1140.8 761.0,1139.9 768.0,1138.0C775.0,1136.1 782.1,1134.0 789.1,1130.9C796.1,1127.9 804.9,1123.5 810.3,1119.7C815.7,1116.0 819.0,1112.2 821.6,1108.4C824.2,1104.6 824.9,1101.3 825.8,1097.1C826.7,1092.8 828.1,1087.2 827.2,1082.9C826.3,1078.7 822.1,1075.3 820.2,1071.6C818.3,1067.8 815.8,1064.2 816.0,1060.4C816.2,1056.7 820.4,1053.3 821.6,1049.1C822.8,1044.8 823.2,1039.4 823.0,1034.9C822.8,1030.4 820.0,1026.2 820.2,1022.2C820.4,1018.2 823.9,1014.7 824.4,1010.9C824.9,1007.1 824.5,1002.5 823.0,999.6C821.5,996.7 817.5,996.1 815.2,993.7C813.0,991.3 810.6,988.3 809.5,985.2C808.4,982.1 808.3,977.9 808.8,975.3C809.3,972.7 810.6,971.1 812.4,969.7C814.2,968.3 817.0,968.2 819.4,966.8C821.8,965.4 825.0,964.0 826.5,961.2C828.0,958.4 829.1,953.2 828.6,949.9C828.1,946.6 826.4,944.2 823.7,941.4C821.0,938.6 816.6,936.2 812.4,932.9C808.1,929.6 802.9,925.5 798.2,921.7C793.5,918.0 788.3,914.1 784.1,910.4C779.9,906.7 775.9,902.3 773.0,899.5C770.1,896.7 769.0,896.1 766.8,893.7C764.6,891.3 761.4,888.3 759.8,885.2C758.2,882.1 758.0,879.3 757.0,875.3C756.0,871.3 755.1,865.9 754.1,861.2C753.1,856.5 752.5,851.8 751.3,847.1C750.1,842.4 749.0,837.6 747.1,832.9C745.2,828.2 741.2,821.1 740.0,818.8Z" fill="url(#gBand)"/>
<path d="M630.6,913.0C631.8,913.8 636.4,915.6 637.6,917.6C638.8,919.6 639.2,922.3 638.0,924.7C636.8,927.1 633.8,929.8 630.6,931.8C627.4,933.8 621.9,935.0 618.8,936.5C615.7,938.0 613.8,939.1 611.8,941.0C609.8,942.9 608.6,945.2 607.0,948.0C605.4,950.8 603.6,955.3 602.0,957.6C600.4,959.9 598.3,961.3 597.6,962.0L597.6,962.0C597.1,962.1 595.2,962.3 594.7,962.4L594.7,962.4C593.6,961.0 590.8,956.2 588.0,954.0C585.2,951.8 581.3,948.5 578.0,949.0C574.7,949.5 570.0,952.7 568.0,957.0C566.0,961.3 567.0,967.8 566.0,975.0C565.0,982.2 563.0,992.2 562.0,1000.0C561.0,1007.8 560.9,1016.5 560.0,1022.0C559.1,1027.5 558.8,1030.2 556.6,1032.9C554.4,1035.6 549.8,1037.4 546.7,1037.9C543.6,1038.4 542.0,1036.9 538.2,1035.8C534.4,1034.7 528.8,1032.5 524.1,1031.5C519.4,1030.5 512.4,1030.3 510.0,1030.1L510.0,1030.0C508.3,1026.7 498.3,1021.7 500.0,1010.0C501.7,998.3 510.0,975.8 520.0,960.0C530.0,944.2 541.6,922.8 560.0,915.0C578.4,907.2 618.8,913.3 630.6,913.0Z" fill="#f3a680"/>
<path d="M583.0,984.0C581.3,983.0 575.8,980.4 573.0,978.0C570.2,975.6 567.2,972.7 566.5,969.4C565.8,966.1 566.7,961.4 568.6,958.1C570.5,954.8 574.6,950.3 577.8,949.6C581.0,948.9 584.8,952.0 587.6,953.9C590.4,955.8 593.1,959.4 594.7,961.0C596.4,962.6 597.0,963.3 597.5,963.8L583.0,984.0C585.5,987.7 593.7,998.7 598.0,1006.0C602.3,1013.3 605.7,1021.0 609.0,1028.0C612.3,1035.0 615.2,1042.2 618.0,1048.0C620.8,1053.8 622.8,1058.2 626.0,1063.0C629.2,1067.8 635.3,1074.2 637.2,1076.5L637.2,1076.5C640.3,1077.0 649.4,1078.7 655.9,1079.8C662.4,1080.9 669.3,1081.9 676.2,1082.9C683.1,1083.9 690.4,1084.6 697.4,1085.8C704.4,1087.0 711.5,1088.6 718.5,1090.0C725.5,1091.4 732.6,1092.9 739.7,1094.2C746.8,1095.5 753.8,1097.0 760.9,1097.8C768.0,1098.6 776.2,1099.6 782.1,1099.2C788.0,1098.8 792.0,1097.4 796.2,1095.6C800.4,1093.8 804.5,1090.5 807.5,1088.6C810.5,1086.7 813.3,1085.1 814.5,1084.4L814.5,1084.4C813.6,1083.2 810.8,1080.4 808.9,1077.3C807.0,1074.2 804.2,1069.8 803.2,1066.0C802.2,1062.2 802.6,1058.5 803.2,1054.7C803.8,1050.9 806.2,1045.3 806.8,1043.4L806.8,1043.4C806.8,1042.9 806.8,1041.1 806.8,1040.6L806.8,1042.0C803.6,1042.7 792.8,1045.7 787.7,1046.2C782.6,1046.7 782.5,1045.0 776.4,1044.8C770.3,1044.6 759.5,1045.0 751.0,1044.8C742.5,1044.6 734.3,1044.1 725.6,1043.4C716.9,1042.7 703.3,1041.1 698.8,1040.6L698.8,1040.6C698.8,1038.0 700.7,1028.2 698.8,1025.1C696.9,1022.0 691.3,1024.0 687.5,1022.2C683.7,1020.4 679.1,1017.3 676.0,1014.0C672.9,1010.7 670.2,1004.4 669.1,1002.5L669.1,1001.1C668.5,997.5 666.6,985.8 665.3,979.3C664.0,972.8 662.5,967.6 661.1,962.4C659.7,957.2 658.4,951.7 656.8,948.2C655.1,944.7 653.1,942.5 651.2,941.2C649.3,939.9 646.5,940.6 645.5,940.5L645.5,940.5C645.3,941.3 644.8,942.5 644.1,945.4C643.4,948.3 642.9,954.3 641.3,958.1C639.6,961.9 637.3,965.4 634.2,968.0C631.1,970.6 627.1,972.9 622.9,973.6C618.7,974.3 613.0,973.6 608.8,972.2C604.6,970.8 599.4,966.4 597.5,965.2Z" fill="#fbe7df"/>
<path d="M665.3,979.3C665.9,982.9 667.0,994.9 669.1,1001.1C671.2,1007.3 673.8,1011.4 677.6,1016.6C681.4,1021.8 687.5,1027.9 691.7,1032.1C695.9,1036.3 701.1,1040.3 703.0,1042.0L703.0,1042.0C704.9,1043.7 710.1,1048.4 714.3,1051.9C718.5,1055.4 723.2,1059.7 728.4,1063.2C733.6,1066.7 739.8,1070.4 745.4,1073.1C751.0,1075.8 756.7,1078.0 762.3,1079.4C767.9,1080.8 773.6,1081.4 779.2,1081.5C784.9,1081.6 791.2,1080.7 796.2,1080.1C801.2,1079.5 806.8,1078.3 808.9,1078.0L808.9,1077.3C808.0,1075.4 804.2,1069.8 803.2,1066.0C802.2,1062.2 802.6,1058.5 803.2,1054.7C803.8,1050.9 806.2,1045.3 806.8,1043.4L806.8,1043.4C806.8,1042.9 806.8,1041.1 806.8,1040.6L806.8,1042.0C803.6,1042.7 792.8,1045.7 787.7,1046.2C782.6,1046.7 782.5,1045.0 776.4,1044.8C770.3,1044.6 759.5,1045.0 751.0,1044.8C742.5,1044.6 734.3,1044.1 725.6,1043.4C716.9,1042.7 703.3,1041.1 698.8,1040.6L698.8,1040.6C698.8,1038.0 700.7,1028.2 698.8,1025.1C696.9,1022.0 691.3,1024.0 687.5,1022.2C683.7,1020.4 679.1,1017.3 676.0,1014.0C672.9,1010.7 670.2,1004.4 669.1,1002.5Z" fill="#fbdccb"/>
<path d="M645.5,940.5C647.7,940.9 654.2,941.9 658.5,942.8C662.8,943.6 667.2,944.4 671.2,945.6C675.2,946.8 679.0,948.0 682.5,949.9C686.0,951.8 689.4,954.5 692.4,956.9C695.4,959.2 698.4,962.2 700.8,964.0C703.1,965.8 704.6,966.9 706.5,967.5C708.4,968.1 711.2,967.5 712.1,967.5L703.6,965.4C704.3,965.9 706.5,968.0 707.9,968.2C709.3,968.4 710.9,968.0 712.1,966.8C713.3,965.6 713.7,963.1 714.9,961.2C716.1,959.3 718.2,957.4 719.2,955.5C720.2,953.6 719.9,951.8 720.6,949.9C721.3,948.0 722.0,945.9 723.4,944.2C724.8,942.6 727.7,941.4 729.1,940.0C730.5,938.6 730.4,937.0 731.9,935.8C733.4,934.6 736.9,934.3 738.2,932.9C739.5,931.5 740.0,928.5 739.6,927.3C739.2,926.1 736.7,926.1 736.1,925.9L736.1,925.9C737.2,923.3 740.2,914.7 742.5,910.4C744.8,906.1 745.4,898.4 750.0,900.0C754.6,901.6 764.4,915.1 770.0,920.0C775.6,924.9 781.2,927.8 783.4,929.4L783.4,929.4C782.6,930.7 780.0,934.2 778.5,937.2C777.0,940.2 775.3,943.6 774.2,947.1C773.1,950.6 772.3,954.9 772.1,958.4C771.9,961.9 772.0,965.2 772.8,968.2C773.6,971.2 775.9,974.6 777.1,976.7C778.3,978.8 779.4,980.2 779.9,980.9L779.9,980.9C780.8,982.3 783.6,987.3 785.5,989.4C787.4,991.5 789.4,993.2 791.2,993.7C793.0,994.2 795.4,992.8 796.2,992.6L796.2,992.6C795.2,992.5 794.0,991.3 790.5,992.0C787.0,992.7 780.8,995.0 775.0,997.0C769.2,999.0 762.7,1002.0 756.0,1004.0C749.3,1006.0 742.3,1008.0 735.0,1009.0C727.7,1010.0 719.5,1010.2 712.0,1010.0C704.5,1009.8 697.1,1009.2 690.0,1008.0C682.9,1006.8 672.6,1003.4 669.1,1002.5L669.1,1001.1C668.5,997.5 666.6,985.8 665.3,979.3C664.0,972.8 662.5,967.6 661.1,962.4C659.7,957.2 658.4,951.7 656.8,948.2C655.1,944.7 653.1,942.5 651.2,941.2C649.3,939.9 646.5,940.6 645.5,940.5Z" fill="#fbdccb"/>
<path d="M637.2,1076.5C640.3,1077.0 649.4,1078.7 655.9,1079.8C662.4,1080.9 669.3,1081.9 676.2,1082.9C683.1,1083.9 690.4,1084.6 697.4,1085.8C704.4,1087.0 711.5,1088.6 718.5,1090.0C725.5,1091.4 732.6,1092.9 739.7,1094.2C746.8,1095.5 753.8,1097.0 760.9,1097.8C768.0,1098.6 776.2,1099.6 782.1,1099.2C788.0,1098.8 792.0,1097.4 796.2,1095.6C800.4,1093.8 804.5,1090.5 807.5,1088.6C810.5,1086.7 813.3,1085.1 814.5,1084.4L814.5,1084.4C814.8,1086.0 816.2,1090.7 816.0,1094.2C815.8,1097.7 815.0,1101.7 813.1,1105.5C811.2,1109.3 808.5,1113.7 804.7,1116.8C800.9,1119.9 796.6,1122.0 790.5,1123.9C784.4,1125.8 776.5,1127.2 768.0,1128.1C759.5,1129.0 749.1,1129.3 739.7,1129.5C730.3,1129.7 720.0,1129.2 711.5,1129.5C703.0,1129.8 692.6,1131.1 688.8,1131.4L688.8,1131.4C687.9,1130.7 685.5,1128.1 683.3,1127.0C681.1,1125.9 678.0,1125.9 675.6,1124.8C673.2,1123.7 671.7,1120.8 669.1,1120.4C666.5,1120.0 661.8,1122.2 660.3,1122.6L660.3,1122.6C658.8,1121.1 653.5,1117.3 651.5,1113.8C649.5,1110.3 649.7,1106.1 648.2,1101.7C646.7,1097.3 644.5,1091.7 642.7,1087.5C640.9,1083.3 638.1,1078.3 637.2,1076.5Z" fill="url(#gMus)"/>
<path d="M648.0,1090.0 L718.0,1079.0" stroke="#fff" stroke-width="0.7" opacity="0.75" fill="none"/>
<path d="M649.2,1093.2 L719.2,1082.2" stroke="#fff" stroke-width="0.7" opacity="0.75" fill="none"/>
<path d="M650.4,1096.4 L720.4,1085.4" stroke="#fff" stroke-width="0.7" opacity="0.75" fill="none"/>
<path d="M651.6,1099.6 L721.6,1088.6" stroke="#fff" stroke-width="0.7" opacity="0.75" fill="none"/>
<path d="M652.8,1102.8 L722.8,1091.8" stroke="#fff" stroke-width="0.7" opacity="0.75" fill="none"/>
<path d="M654.0,1106.0 L724.0,1095.0" stroke="#fff" stroke-width="0.7" opacity="0.75" fill="none"/>
<path d="M655.2,1109.2 L725.2,1098.2" stroke="#fff" stroke-width="0.7" opacity="0.75" fill="none"/>
<path d="M656.4,1112.4 L726.4,1101.4" stroke="#fff" stroke-width="0.7" opacity="0.75" fill="none"/>
<path d="M657.6,1115.6 L727.6,1104.6" stroke="#fff" stroke-width="0.7" opacity="0.75" fill="none"/>
<path d="M658.8,1118.8 L728.8,1107.8" stroke="#fff" stroke-width="0.7" opacity="0.75" fill="none"/>
<path d="M660.0,1122.0 L730.0,1111.0" stroke="#fff" stroke-width="0.7" opacity="0.75" fill="none"/>
<path d="M661.2,1125.2 L731.2,1114.2" stroke="#fff" stroke-width="0.7" opacity="0.75" fill="none"/>
<path d="M662.4,1128.4 L732.4,1117.4" stroke="#fff" stroke-width="0.7" opacity="0.75" fill="none"/>
<path d="M663.6,1131.6 L733.6,1120.6" stroke="#fff" stroke-width="0.7" opacity="0.75" fill="none"/>
<path d="M630.6,913.0C631.8,913.8 636.4,915.6 637.6,917.6C638.8,919.6 639.2,922.3 638.0,924.7C636.8,927.1 633.8,929.8 630.6,931.8C627.4,933.8 621.9,935.0 618.8,936.5C615.7,938.0 613.8,939.1 611.8,941.0C609.8,942.9 608.6,945.2 607.0,948.0C605.4,950.8 603.6,955.3 602.0,957.6C600.4,959.9 598.3,961.3 597.6,962.0L597.5,962.4C599.4,961.5 605.5,959.1 608.8,956.7C612.1,954.3 615.2,951.2 617.3,948.2C619.4,945.2 618.2,940.2 621.5,938.4C624.8,936.6 633.1,937.2 637.1,937.6C641.1,938.0 644.1,940.0 645.5,940.5L652.0,938.0C651.3,934.2 650.0,920.0 648.0,915.0C646.0,910.0 641.3,909.2 640.0,908.0Z" fill="#fbdccb"/>
<path d="M597.5,962.4C599.4,961.5 605.5,959.1 608.8,956.7C612.1,954.3 615.2,951.2 617.3,948.2C619.4,945.2 618.2,940.2 621.5,938.4C624.8,936.6 633.1,937.2 637.1,937.6C641.1,938.0 644.1,940.0 645.5,940.5L645.5,940.5C645.3,941.3 644.8,942.5 644.1,945.4C643.4,948.3 642.9,954.3 641.3,958.1C639.6,961.9 637.3,965.4 634.2,968.0C631.1,970.6 627.1,972.9 622.9,973.6C618.7,974.3 613.0,973.6 608.8,972.2C604.6,970.8 599.4,966.4 597.5,965.2Z" fill="url(#gDisc)"/>
<path d="M669.1,1002.5C672.6,1003.4 682.9,1006.8 690.0,1008.0C697.1,1009.2 704.5,1009.8 712.0,1010.0C719.5,1010.2 727.7,1010.0 735.0,1009.0C742.3,1008.0 749.3,1006.0 756.0,1004.0C762.7,1002.0 769.2,999.0 775.0,997.0C780.8,995.0 787.0,992.7 790.5,992.0C794.0,991.3 795.2,992.5 796.2,992.6L796.2,992.6C797.1,994.7 800.1,1001.1 801.8,1005.3C803.4,1009.5 805.3,1012.1 806.1,1018.0C806.9,1023.9 806.7,1036.8 806.8,1040.6L806.8,1042.0C803.6,1042.7 792.8,1045.7 787.7,1046.2C782.6,1046.7 782.5,1045.0 776.4,1044.8C770.3,1044.6 759.5,1045.0 751.0,1044.8C742.5,1044.6 734.3,1044.1 725.6,1043.4C716.9,1042.7 703.3,1041.1 698.8,1040.6L698.8,1040.6C698.8,1038.0 700.7,1028.2 698.8,1025.1C696.9,1022.0 691.3,1024.0 687.5,1022.2C683.7,1020.4 679.1,1017.3 676.0,1014.0C672.9,1010.7 670.2,1004.4 669.1,1002.5Z" fill="#ffffff"/>
<path d="M670.0,1006.7C670.0,997.7 689.4,997.7 689.4,1006.7Z" fill="#f3d183" stroke="#1a1a1a" stroke-width="0.9"/>
<path d="M689.9,1011.6C689.9,1002.6 714.0,1002.6 714.0,1011.6Z" fill="#f3d183" stroke="#1a1a1a" stroke-width="0.9"/>
<path d="M716.0,1012.3C716.0,1003.3 739.4,1003.3 739.4,1012.3Z" fill="#f3d183" stroke="#1a1a1a" stroke-width="0.9"/>
<path d="M741.1,1011.6C741.1,1002.6 758.0,1002.6 758.0,1011.6Z" fill="#f3d183" stroke="#1a1a1a" stroke-width="0.9"/>
<path d="M758.9,1006.0C758.9,997.0 778.4,997.0 778.4,1006.0Z" fill="#f3d183" stroke="#1a1a1a" stroke-width="0.9"/>
<path d="M779.9,1001.0C779.9,992.0 795.5,992.0 795.5,1001.0Z" fill="#f3d183" stroke="#1a1a1a" stroke-width="0.9"/>
<path d="M791.1,999.6C791.1,990.6 803.4,990.6 803.4,999.6Z" fill="#f3d183" stroke="#1a1a1a" stroke-width="0.9"/>
<path d="M701.0,1038.5C701.0,1047.0 722.9,1047.0 722.9,1038.5Z" fill="#f3d183" stroke="#1a1a1a" stroke-width="0.9"/>
<path d="M726.9,1040.6C726.9,1049.1 749.7,1049.1 749.7,1040.6Z" fill="#f3d183" stroke="#1a1a1a" stroke-width="0.9"/>
<path d="M752.8,1041.3C752.8,1049.8 765.4,1049.8 765.4,1041.3Z" fill="#f3d183" stroke="#1a1a1a" stroke-width="0.9"/>
<path d="M766.9,1041.3C766.9,1049.8 778.9,1049.8 778.9,1041.3Z" fill="#f3d183" stroke="#1a1a1a" stroke-width="0.9"/>
<path d="M781.8,1039.9C781.8,1048.4 794.4,1048.4 794.4,1039.9Z" fill="#f3d183" stroke="#1a1a1a" stroke-width="0.9"/>
<path d="M796.7,1037.8C796.7,1046.3 802.1,1046.3 802.1,1037.8Z" fill="#f3d183" stroke="#1a1a1a" stroke-width="0.9"/>
<path d="M699.5,1025.8C697.4,1028.0 697.0,1037.9 699.0,1040.6C701.0,1043.3 707.3,1041.9 711.5,1042.0C715.7,1042.1 721.9,1043.4 724.2,1041.3C726.4,1039.2 725.4,1031.8 724.9,1029.3C724.4,1026.8 723.6,1026.8 721.4,1026.5C719.1,1026.1 715.1,1027.3 711.5,1027.2C707.8,1027.1 701.5,1023.5 699.5,1025.8Z" fill="#fafafa" stroke="#1a1a1a" stroke-width="0.95" stroke-linejoin="round"/>
<path d="M725.6,1026.5C723.6,1028.1 724.4,1033.5 724.9,1036.4C725.4,1039.2 725.9,1042.1 728.4,1043.4C730.9,1044.7 736.2,1044.2 739.7,1044.1C743.2,1044.0 747.6,1044.9 749.6,1042.7C751.6,1040.5 752.2,1033.3 751.7,1030.7C751.2,1028.1 749.2,1027.9 746.8,1027.2C744.3,1026.5 740.4,1026.6 736.9,1026.5C733.4,1026.4 727.6,1024.8 725.6,1026.5Z" fill="#fafafa" stroke="#1a1a1a" stroke-width="0.95" stroke-linejoin="round"/>
<path d="M752.4,1027.9C750.9,1030.0 751.0,1037.8 751.7,1040.6C752.4,1043.4 754.5,1044.4 756.7,1044.8C758.8,1045.3 762.8,1045.8 764.4,1043.4C766.1,1041.1 767.1,1033.3 766.5,1030.7C765.9,1028.1 763.2,1028.4 760.9,1027.9C758.5,1027.4 753.9,1025.8 752.4,1027.9Z" fill="#fafafa" stroke="#1a1a1a" stroke-width="0.95" stroke-linejoin="round"/>
<path d="M767.2,1029.3C765.5,1031.6 765.2,1038.0 765.8,1040.6C766.4,1043.2 768.8,1044.2 770.8,1044.8C772.8,1045.4 776.3,1046.2 777.8,1044.1C779.4,1042.0 780.2,1035.1 779.9,1032.1C779.7,1029.2 778.5,1026.9 776.4,1026.5C774.3,1026.0 769.0,1026.9 767.2,1029.3Z" fill="#fafafa" stroke="#1a1a1a" stroke-width="0.95" stroke-linejoin="round"/>
<path d="M780.7,1025.1C779.5,1028.0 779.7,1037.5 780.7,1040.6C781.6,1043.7 784.1,1043.4 786.3,1043.4C788.5,1043.4 792.5,1043.9 794.1,1040.6C795.6,1037.3 796.5,1026.6 795.5,1023.6C794.4,1020.7 790.2,1022.7 787.7,1022.9C785.2,1023.2 781.8,1022.1 780.7,1025.1Z" fill="#fafafa" stroke="#1a1a1a" stroke-width="0.95" stroke-linejoin="round"/>
<path d="M796.2,1022.9C795.1,1026.0 795.2,1036.8 796.2,1039.9C797.1,1042.9 800.8,1044.4 801.8,1041.3C802.9,1038.2 803.5,1024.6 802.5,1021.5C801.6,1018.5 797.2,1019.9 796.2,1022.9Z" fill="#fafafa" stroke="#1a1a1a" stroke-width="0.95" stroke-linejoin="round"/>
<path d="M803.0,1021.5C802.4,1024.8 802.3,1037.3 803.0,1040.6C803.6,1043.9 806.2,1044.6 806.8,1041.3C807.3,1038.0 807.0,1024.1 806.3,1020.8C805.7,1017.5 803.5,1018.2 803.0,1021.5Z" fill="#fafafa" stroke="#1a1a1a" stroke-width="0.95" stroke-linejoin="round"/>
<path d="M796.2,994.7C795.8,995.2 799.7,1000.7 801.1,1003.9C802.5,1007.1 803.8,1011.1 804.7,1013.8C805.5,1016.5 805.7,1020.4 806.1,1020.1C806.4,1019.9 807.2,1015.5 806.8,1012.4C806.3,1009.2 805.0,1004.0 803.2,1001.1C801.5,998.1 796.5,994.2 796.2,994.7Z" fill="#fdfdfd" stroke="#1a1a1a" stroke-width="0.95" stroke-linejoin="round"/>
<path d="M790.5,996.8C790.3,998.4 793.8,1002.0 794.8,1005.3C795.7,1008.6 795.7,1013.9 796.2,1016.6C796.7,1019.3 796.4,1020.8 797.6,1021.5C798.8,1022.2 802.2,1022.4 803.2,1020.8C804.3,1019.3 804.4,1015.4 803.9,1012.4C803.5,1009.3 801.7,1005.2 800.4,1002.5C799.1,999.8 797.8,997.1 796.2,996.1C794.5,995.2 790.8,995.3 790.5,996.8Z" fill="#fdfdfd" stroke="#1a1a1a" stroke-width="0.95" stroke-linejoin="round"/>
<path d="M779.2,1000.4C778.4,1002.8 779.5,1008.9 779.9,1012.4C780.4,1015.8 780.3,1019.2 782.1,1020.8C783.8,1022.5 788.2,1022.1 790.5,1022.2C792.9,1022.4 795.5,1023.6 796.2,1021.5C796.9,1019.4 795.7,1013.1 794.8,1009.5C793.8,1006.0 792.2,1002.4 790.5,1000.4C788.9,998.4 786.8,997.5 784.9,997.5C783.0,997.5 780.1,997.9 779.2,1000.4Z" fill="#fdfdfd" stroke="#1a1a1a" stroke-width="0.95" stroke-linejoin="round"/>
<path d="M758.1,1008.1C756.9,1010.7 758.3,1014.9 759.5,1018.0C760.7,1021.1 763.0,1024.7 765.1,1026.5C767.2,1028.2 770.1,1029.1 772.2,1028.6C774.3,1028.1 776.7,1026.4 777.8,1023.6C779.0,1020.9 779.7,1015.6 779.2,1012.4C778.8,1009.1 777.1,1005.5 775.0,1003.9C772.9,1002.2 769.4,1001.8 766.5,1002.5C763.7,1003.2 759.2,1005.5 758.1,1008.1Z" fill="#fdfdfd" stroke="#1a1a1a" stroke-width="0.95" stroke-linejoin="round"/>
<path d="M741.1,1010.9C740.3,1013.1 739.7,1018.2 740.4,1020.8C741.1,1023.4 743.1,1025.5 745.4,1026.5C747.6,1027.4 751.6,1027.4 753.8,1026.5C756.1,1025.5 758.3,1023.2 758.8,1020.8C759.2,1018.5 757.9,1014.4 756.7,1012.4C755.4,1010.4 752.9,1009.5 751.0,1008.8C749.1,1008.1 747.0,1007.8 745.4,1008.1C743.7,1008.5 741.9,1008.8 741.1,1010.9Z" fill="#fdfdfd" stroke="#1a1a1a" stroke-width="0.95" stroke-linejoin="round"/>
<path d="M715.7,1012.4C714.4,1014.7 714.3,1021.3 715.0,1023.6C715.7,1026.0 717.7,1026.2 719.9,1026.5C722.2,1026.7 725.4,1025.4 728.4,1025.1C731.5,1024.7 736.3,1025.5 738.3,1024.4C740.3,1023.2 740.2,1020.2 740.4,1018.0C740.7,1015.8 740.8,1012.5 739.7,1010.9C738.7,1009.4 736.9,1009.1 734.1,1008.8C731.2,1008.6 725.8,1008.9 722.8,1009.5C719.7,1010.1 717.0,1010.0 715.7,1012.4Z" fill="#fdfdfd" stroke="#1a1a1a" stroke-width="0.95" stroke-linejoin="round"/>
<path d="M690.3,1010.9C688.9,1013.1 688.6,1018.6 688.9,1020.8C689.1,1023.1 689.6,1023.5 691.7,1024.4C693.8,1025.2 698.3,1025.8 701.6,1025.8C704.9,1025.8 709.2,1025.6 711.5,1024.4C713.7,1023.1 714.5,1020.2 715.0,1018.0C715.5,1015.8 715.4,1012.6 714.3,1010.9C713.2,1009.3 711.5,1008.6 708.6,1008.1C705.8,1007.6 700.4,1007.6 697.4,1008.1C694.3,1008.6 691.7,1008.8 690.3,1010.9Z" fill="#fdfdfd" stroke="#1a1a1a" stroke-width="0.95" stroke-linejoin="round"/>
<path d="M669.8,1004.6C668.6,1006.1 668.3,1010.1 669.1,1012.4C669.9,1014.6 672.4,1016.2 674.8,1018.0C677.1,1019.8 680.9,1022.4 683.2,1022.9C685.6,1023.5 687.7,1023.3 688.9,1021.5C690.1,1019.8 690.2,1014.7 690.3,1012.4C690.4,1010.0 690.8,1008.8 689.6,1007.4C688.4,1006.0 685.5,1004.6 683.2,1003.9C681.0,1003.2 678.4,1003.1 676.2,1003.2C673.9,1003.3 671.0,1003.1 669.8,1004.6Z" fill="#fdfdfd" stroke="#1a1a1a" stroke-width="0.95" stroke-linejoin="round"/>
<path d="M670.5,1009.5C675.0,1010.5 685.8,1014.0 697.4,1015.2C708.9,1016.4 726.8,1016.8 739.7,1016.6C752.7,1016.4 764.2,1015.2 775.0,1013.8C785.8,1012.4 799.7,1009.1 804.7,1008.1" fill="none" stroke="#cfcfcf" stroke-width="0.8"/>
<path d="M700.2,1032.1C706.8,1032.8 727.2,1035.7 739.7,1036.4C752.2,1037.1 763.9,1036.8 775.0,1036.4C786.1,1035.9 800.9,1034.0 806.1,1033.5" fill="none" stroke="#cfcfcf" stroke-width="0.8"/>
<path d="M706.5,841.2C703.7,841.3 700.5,841.9 698.0,843.3C695.5,844.7 693.1,846.7 691.6,849.6C690.1,852.5 689.3,856.9 688.8,860.9C688.3,864.9 688.3,869.1 688.8,873.6C689.3,878.1 690.3,883.1 691.6,887.8C692.9,892.5 694.6,897.7 696.6,901.9C698.6,906.1 701.0,909.7 703.6,913.2C706.2,916.7 709.3,920.5 712.1,923.1C714.9,925.7 717.8,927.7 720.6,928.7C723.4,929.8 726.5,929.9 729.1,929.4C731.7,928.9 734.2,927.7 736.1,925.9C738.0,924.1 739.3,921.4 740.4,918.8C741.5,916.2 742.5,913.0 742.5,910.4C742.5,907.8 741.7,905.4 740.4,903.3C739.1,901.2 736.5,899.0 734.7,897.6C732.9,896.2 731.1,896.9 729.8,894.8C728.5,892.7 727.1,888.4 726.9,884.9C726.7,881.4 728.4,877.8 728.4,873.6C728.4,869.4 728.0,863.7 726.9,859.5C725.8,855.3 724.0,851.0 722.0,848.2C720.0,845.4 717.5,843.8 714.9,842.6C712.3,841.4 709.3,841.1 706.5,841.2Z" fill="#fbdcc8"/>
<path d="M706.5,841.2C703.7,841.3 700.5,841.9 698.0,843.3C695.5,844.7 693.1,846.7 691.6,849.6C690.1,852.5 689.3,856.9 688.8,860.9C688.3,864.9 688.3,869.1 688.8,873.6C689.3,878.1 690.3,883.0 691.6,887.8C692.9,892.6 693.7,900.5 696.6,902.6C699.5,904.7 706.0,900.6 709.3,900.5C712.6,900.4 714.2,901.9 716.4,901.9C718.6,901.9 721.1,901.3 722.7,900.5C724.3,899.7 725.0,897.9 726.2,896.9C727.4,895.9 729.7,896.8 729.8,894.8C729.9,892.8 727.1,888.4 726.9,884.9C726.7,881.4 728.4,877.8 728.4,873.6C728.4,869.4 728.0,863.7 726.9,859.5C725.8,855.3 724.0,851.0 722.0,848.2C720.0,845.4 717.5,843.8 714.9,842.6C712.3,841.4 709.3,841.1 706.5,841.2Z" fill="url(#gOrb)"/>
<path d="M696.6,902.6L709.3,900.5L716.4,901.9L722.7,900.5L724.0,912.0L726.0,922.0L720.6,920.9L714.2,923.8L703.6,913.2Z" fill="#ffffff"/>
<path d="M714.2,923.8C714.2,922.5 718.6,920.9 720.6,920.9C722.6,920.9 723.9,923.4 726.2,923.8C728.6,924.2 732.6,924.2 734.7,923.1C736.8,922.0 738.8,916.5 739.0,917.0C739.2,917.5 737.8,923.8 736.1,925.9C734.5,928.0 731.7,928.9 729.1,929.4C726.5,929.9 723.1,929.6 720.6,928.7C718.1,927.8 714.2,925.1 714.2,923.8Z" fill="#a39b8c"/>
<path d="M723.4,899.1C724.1,898.0 725.5,897.0 726.9,896.9C728.3,896.8 730.6,897.1 731.9,898.4C733.2,899.7 734.0,901.8 734.7,904.7C735.4,907.6 736.3,912.9 736.1,916.0C735.9,919.1 734.6,921.8 733.3,923.1C732.0,924.4 729.8,924.5 728.4,923.8C727.0,923.1 725.6,921.0 724.8,918.8C724.0,916.6 723.8,913.0 723.4,910.4C723.0,907.8 722.7,905.2 722.7,903.3C722.7,901.4 722.7,900.2 723.4,899.1Z" fill="#f5c19e" stroke="#1a1a1a" stroke-width="1.15"  stroke-linejoin="round" stroke-linecap="round"/>
<path d="M734.5,904 L734.5,921.5" stroke="#1a1a1a" stroke-width="1.15" fill="none" stroke-linejoin="round" stroke-linecap="round" stroke-width="0.8"/>
<path d="M706.5,841.2C703.7,841.3 700.5,841.9 698.0,843.3C695.5,844.7 693.1,846.7 691.6,849.6C690.1,852.5 689.3,856.9 688.8,860.9C688.3,864.9 688.3,869.1 688.8,873.6C689.3,878.1 690.3,883.1 691.6,887.8C692.9,892.5 694.6,897.7 696.6,901.9C698.6,906.1 701.0,909.7 703.6,913.2C706.2,916.7 709.3,920.5 712.1,923.1C714.9,925.7 717.8,927.7 720.6,928.7C723.4,929.8 726.5,929.9 729.1,929.4C731.7,928.9 734.2,927.7 736.1,925.9C738.0,924.1 739.3,921.4 740.4,918.8C741.5,916.2 742.5,913.0 742.5,910.4C742.5,907.8 741.7,905.4 740.4,903.3C739.1,901.2 736.5,899.0 734.7,897.6C732.9,896.2 731.1,896.9 729.8,894.8C728.5,892.7 727.1,888.4 726.9,884.9C726.7,881.4 728.4,877.8 728.4,873.6C728.4,869.4 728.0,863.7 726.9,859.5C725.8,855.3 724.0,851.0 722.0,848.2C720.0,845.4 717.5,843.8 714.9,842.6C712.3,841.4 709.3,841.1 706.5,841.2Z" stroke="#1a1a1a" stroke-width="1.15" fill="none" stroke-linejoin="round" stroke-linecap="round"/>
<path d="M696.6,902.6 L709.3,900.5 L716.4,901.9 L722.7,900.5" fill="none" stroke="#1a1a1a" stroke-width="0.6"/>
<path d="M742.5,887.1C743.5,889.1 746.1,895.2 748.8,899.1C751.5,903.0 755.2,906.9 758.7,910.4C762.2,913.9 766.5,917.4 770.0,920.2C773.5,923.0 777.7,925.8 779.9,927.3C782.1,928.8 782.8,929.0 783.4,929.4L785.5,921.7L785.5,921.7C784.6,920.6 782.5,918.1 779.9,915.0C777.3,911.9 772.9,906.4 770.0,903.1C767.1,899.8 765.0,897.4 762.6,895.1C760.2,892.8 756.7,890.4 755.5,889.4Z" fill="#ffffff"/>
<path d="M785.5,921.7C786.0,923.1 788.0,927.1 788.4,930.1C788.8,933.1 788.4,936.5 787.7,940.0C787.0,943.5 785.4,947.8 784.1,951.3C782.8,954.8 781.0,957.9 779.9,961.2C778.8,964.5 778.0,968.3 777.8,971.1C777.6,973.9 778.4,976.9 778.5,978.1L779.9,980.9C779.4,980.2 778.3,978.8 777.1,976.7C775.9,974.6 773.6,971.2 772.8,968.2C772.0,965.2 771.9,961.9 772.1,958.4C772.3,954.9 773.1,950.6 774.2,947.1C775.3,943.6 777.0,940.2 778.5,937.2C780.0,934.2 782.6,930.7 783.4,929.4Z" fill="url(#gNas)"/>
<path d="M742.5,887.1C743.5,889.1 746.1,895.2 748.8,899.1C751.5,903.0 755.2,906.9 758.7,910.4C762.2,913.9 766.5,917.4 770.0,920.2C773.5,923.0 777.7,925.8 779.9,927.3C782.1,928.8 782.8,929.0 783.4,929.4" stroke="#1a1a1a" stroke-width="1.15" fill="none" stroke-linejoin="round" stroke-linecap="round" stroke-width="0.9"/>
<path d="M738.4,888.5C739.6,890.8 742.6,898.2 745.4,902.5C748.2,906.8 751.7,910.6 755.3,914.2C758.9,917.8 763.5,921.2 767.0,924.0C770.5,926.8 774.5,929.8 776.0,931.0" stroke="#1a1a1a" stroke-width="1.15" fill="none" stroke-linejoin="round" stroke-linecap="round" stroke-width="0.9"/>
<path d="M783.4,929.4C782.6,930.7 780.0,934.2 778.5,937.2C777.0,940.2 775.3,943.6 774.2,947.1C773.1,950.6 772.3,954.9 772.1,958.4C771.9,961.9 772.0,965.2 772.8,968.2C773.6,971.2 775.9,974.6 777.1,976.7C778.3,978.8 779.4,980.2 779.9,980.9" stroke="#1a1a1a" stroke-width="1.15" fill="none" stroke-linejoin="round" stroke-linecap="round"/>
<path d="M779.9,980.9C780.8,982.3 783.6,987.3 785.5,989.4C787.4,991.5 789.4,993.2 791.2,993.7C793.0,994.2 795.4,992.8 796.2,992.6" stroke="#1a1a1a" stroke-width="1.15" fill="none" stroke-linejoin="round" stroke-linecap="round"/>
<path d="M796.2,992.6C797.1,994.7 800.1,1001.1 801.8,1005.3C803.4,1009.5 805.3,1012.1 806.1,1018.0C806.9,1023.9 806.7,1036.8 806.8,1040.6" stroke="#1a1a1a" stroke-width="1.15" fill="none" stroke-linejoin="round" stroke-linecap="round"/>
<path d="M657.4,864.7C658.2,863.9 660.6,862.0 662.4,859.8C664.2,857.6 666.1,853.7 668.0,851.3C669.9,848.9 671.7,846.8 673.6,845.6C675.5,844.4 677.4,844.1 679.3,844.2C681.2,844.3 683.1,845.0 684.9,846.4C686.7,847.8 689.1,851.7 689.9,852.7" stroke="#1a1a1a" stroke-width="1.15" fill="none" stroke-linejoin="round" stroke-linecap="round"/>
<path d="M736.1,925.9C736.7,926.1 739.2,926.1 739.6,927.3C740.0,928.5 739.5,931.5 738.2,932.9C736.9,934.3 733.4,934.6 731.9,935.8C730.4,937.0 730.5,938.6 729.1,940.0C727.7,941.4 724.8,942.6 723.4,944.2C722.0,945.9 721.3,948.0 720.6,949.9C719.9,951.8 720.2,953.6 719.2,955.5C718.2,957.4 716.1,959.3 714.9,961.2C713.7,963.1 713.3,965.6 712.1,966.8C710.9,968.0 709.3,968.4 707.9,968.2C706.5,968.0 704.3,965.9 703.6,965.4" stroke="#1a1a1a" stroke-width="1.15" fill="none" stroke-linejoin="round" stroke-linecap="round"/>
<path d="M645.5,940.5C647.7,940.9 654.2,941.9 658.5,942.8C662.8,943.6 667.2,944.4 671.2,945.6C675.2,946.8 679.0,948.0 682.5,949.9C686.0,951.8 689.4,954.5 692.4,956.9C695.4,959.2 698.4,962.2 700.8,964.0C703.1,965.8 704.6,966.9 706.5,967.5C708.4,968.1 711.2,967.5 712.1,967.5" stroke="#1a1a1a" stroke-width="1.15" fill="none" stroke-linejoin="round" stroke-linecap="round"/>
<path d="M645.5,940.5C646.5,940.6 649.3,939.9 651.2,941.2C653.1,942.5 655.1,944.7 656.8,948.2C658.4,951.7 659.7,957.2 661.1,962.4C662.5,967.6 664.0,972.8 665.3,979.3C666.6,985.8 667.0,994.9 669.1,1001.1C671.2,1007.3 673.8,1011.4 677.6,1016.6C681.4,1021.8 687.5,1027.9 691.7,1032.1C695.9,1036.3 701.1,1040.3 703.0,1042.0" stroke="#1a1a1a" stroke-width="1.15" fill="none" stroke-linejoin="round" stroke-linecap="round"/>
<path d="M703.0,1042.0C704.9,1043.7 710.1,1048.4 714.3,1051.9C718.5,1055.4 723.2,1059.7 728.4,1063.2C733.6,1066.7 739.8,1070.4 745.4,1073.1C751.0,1075.8 756.7,1078.0 762.3,1079.4C767.9,1080.8 773.6,1081.4 779.2,1081.5C784.9,1081.6 791.2,1080.7 796.2,1080.1C801.2,1079.5 806.8,1078.3 808.9,1078.0" stroke="#1a1a1a" stroke-width="1.15" fill="none" stroke-linejoin="round" stroke-linecap="round"/>
<path d="M806.8,1043.4C806.2,1045.3 803.8,1050.9 803.2,1054.7C802.6,1058.5 802.2,1062.2 803.2,1066.0C804.2,1069.8 807.0,1074.2 808.9,1077.3C810.8,1080.4 813.6,1083.2 814.5,1084.4" stroke="#1a1a1a" stroke-width="1.15" fill="none" stroke-linejoin="round" stroke-linecap="round"/>
<path d="M637.2,1076.5C640.3,1077.0 649.4,1078.7 655.9,1079.8C662.4,1080.9 669.3,1081.9 676.2,1082.9C683.1,1083.9 690.4,1084.6 697.4,1085.8C704.4,1087.0 711.5,1088.6 718.5,1090.0C725.5,1091.4 732.6,1092.9 739.7,1094.2C746.8,1095.5 753.8,1097.0 760.9,1097.8C768.0,1098.6 776.2,1099.6 782.1,1099.2C788.0,1098.8 792.0,1097.4 796.2,1095.6C800.4,1093.8 804.5,1090.5 807.5,1088.6C810.5,1086.7 813.3,1085.1 814.5,1084.4" stroke="#1a1a1a" stroke-width="1.15" fill="none" stroke-linejoin="round" stroke-linecap="round"/>
<path d="M814.5,1084.4C814.8,1086.0 816.2,1090.7 816.0,1094.2C815.8,1097.7 815.0,1101.7 813.1,1105.5C811.2,1109.3 808.5,1113.7 804.7,1116.8C800.9,1119.9 796.6,1122.0 790.5,1123.9C784.4,1125.8 776.5,1127.2 768.0,1128.1C759.5,1129.0 749.1,1129.3 739.7,1129.5C730.3,1129.7 720.0,1129.2 711.5,1129.5C703.0,1129.8 692.6,1131.1 688.8,1131.4" stroke="#1a1a1a" stroke-width="1.15" fill="none" stroke-linejoin="round" stroke-linecap="round"/>
<path d="M637.2,1076.5C638.1,1078.3 640.9,1083.3 642.7,1087.5C644.5,1091.7 646.7,1097.3 648.2,1101.7C649.7,1106.1 649.5,1110.3 651.5,1113.8C653.5,1117.3 658.8,1121.1 660.3,1122.6" stroke="#1a1a1a" stroke-width="1.15" fill="none" stroke-linejoin="round" stroke-linecap="round"/>
<path d="M597.5,965.2C599.4,966.4 604.6,970.8 608.8,972.2C613.0,973.6 618.7,974.3 622.9,973.6C627.1,972.9 631.1,970.6 634.2,968.0C637.3,965.4 639.6,961.9 641.3,958.1C642.9,954.3 643.4,948.3 644.1,945.4C644.8,942.5 645.3,941.3 645.5,940.5" stroke="#1a1a1a" stroke-width="1.15" fill="none" stroke-linejoin="round" stroke-linecap="round"/>
<path d="M597.5,962.4C599.4,961.5 605.5,959.1 608.8,956.7C612.1,954.3 615.2,951.2 617.3,948.2C619.4,945.2 618.2,940.2 621.5,938.4C624.8,936.6 633.1,937.2 637.1,937.6C641.1,938.0 644.1,940.0 645.5,940.5" stroke="#1a1a1a" stroke-width="1.15" fill="none" stroke-linejoin="round" stroke-linecap="round"/>
<path d="M597.5,963.8C597.0,963.3 596.4,962.6 594.7,961.0C593.1,959.4 590.4,955.8 587.6,953.9C584.8,952.0 581.0,948.9 577.8,949.6C574.6,950.3 570.5,954.8 568.6,958.1C566.7,961.4 565.8,966.1 566.5,969.4C567.2,972.7 570.2,975.6 573.0,978.0C575.8,980.4 581.3,983.0 583.0,984.0" stroke="#1a1a1a" stroke-width="1.15" fill="none" stroke-linejoin="round" stroke-linecap="round"/>
<path d="M583.0,984.0C585.5,987.7 593.7,998.7 598.0,1006.0C602.3,1013.3 605.7,1021.0 609.0,1028.0C612.3,1035.0 615.2,1042.2 618.0,1048.0C620.8,1053.8 622.8,1058.2 626.0,1063.0C629.2,1067.8 635.3,1074.2 637.2,1076.5" stroke="#1a1a1a" stroke-width="1.15" fill="none" stroke-linejoin="round" stroke-linecap="round"/>
<path d="M766.8,893.7C767.8,894.7 770.1,896.7 773.0,899.5C775.9,902.3 779.9,906.7 784.1,910.4C788.3,914.1 793.5,918.0 798.2,921.7C802.9,925.5 808.1,929.6 812.4,932.9C816.6,936.2 821.0,938.6 823.7,941.4C826.4,944.2 828.1,946.6 828.6,949.9C829.1,953.2 828.0,958.4 826.5,961.2C825.0,964.0 821.8,965.4 819.4,966.8C817.0,968.2 814.2,968.3 812.4,969.7C810.6,971.1 809.3,972.7 808.8,975.3C808.3,977.9 809.4,983.6 809.5,985.2" fill="none" stroke="#45453f" stroke-width="0.95"/>
<path d="M809.5,985.2L809.9,986.6L810.8,988.4L812.6,990.0L814.3,991.7L815.4,993.5L816.9,995.6L819.2,996.8L821.7,997.5L823.4,999.3L823.7,1001.5L823.7,1003.8L824.3,1006.1L825.1,1008.6L824.8,1011.0L823.8,1012.7L822.6,1014.4L822.0,1016.3L821.6,1018.5L821.1,1020.4L820.3,1022.2L819.8,1024.3L820.3,1026.4L821.6,1028.3L822.7,1030.3L822.8,1032.7L822.5,1034.9L822.6,1036.9L823.2,1038.9L823.5,1041.1L823.0,1043.2L822.1,1045.2L821.5,1047.1L821.5,1049.1L821.3,1051.4L820.0,1053.3L818.2,1054.8L816.8,1056.5L816.2,1058.5L816.4,1060.4L816.7,1062.5L816.7,1064.9L817.3,1067.4L819.0,1069.4L820.7,1071.3L821.5,1073.3L822.3,1075.5L823.6,1077.4L825.5,1078.8L827.0,1080.6L827.4,1082.8L827.1,1084.8L826.9,1086.8L827.3,1088.9L827.6,1091.2L827.1,1093.2L826.0,1095.1L825.2,1097.0L825.1,1099.1L825.3,1101.2L824.9,1103.1L823.7,1104.8L822.3,1106.3L821.2,1108.1L820.5,1110.1L819.6,1112.0L818.0,1113.5L815.9,1114.6L814.1,1116.1L812.6,1118.3L810.6,1120.2L808.8,1120.8L806.8,1121.4L805.0,1122.5L803.4,1124.1L801.6,1125.6L799.3,1126.2L797.0,1126.6L795.0,1127.8L793.2,1129.4L791.3,1130.6L789.1,1130.9L787.0,1131.2L785.1,1132.1L783.4,1133.4L781.6,1134.5L779.6,1134.8L777.5,1134.8L775.5,1135.3L773.7,1136.3L772.0,1137.4L770.1,1138.0L768.0,1137.9L765.7,1138.0L763.6,1138.7L761.6,1139.9L759.4,1140.4L757.1,1140.2L754.9,1140.1L752.8,1140.7L750.8,1141.8L748.9,1142.3L746.8,1142.3L744.3,1142.2L742.1,1142.9L740.1,1144.2L738.1,1144.8L735.9,1144.8L733.7,1144.9L731.8,1145.7L730.1,1146.9L728.1,1148.0L725.8,1148.4L723.6,1148.7L721.6,1149.7L720.0,1151.2L718.4,1152.6L716.4,1153.4L714.2,1154.2L712.5,1155.6L711.2,1157.6L709.8,1159.4L708.0,1160.7L706.1,1162.1L704.9,1164.1L704.6,1166.2L704.2,1168.2L703.2,1170.0L702.1,1171.9L701.5,1174.1L701.7,1176.4L701.8,1178.7L701.1,1180.8L700.2,1182.8L699.9,1185.1L700.4,1187.4L700.8,1189.8L700.2,1192.1L699.5,1194.3L699.5,1196.4L700.0,1198.3L700.4,1200.0L699.7,1203.0L698.8,1205.1L698.6,1206.8L698.7,1208.0" fill="none" stroke="#8d8d86" stroke-width="0.8"/>
<path d="M662.4,765.2C664.8,766.6 671.8,770.6 676.5,773.6C681.2,776.6 685.9,779.7 690.6,783.5C695.3,787.3 700.5,792.0 704.7,796.2C708.9,800.4 712.7,804.7 716.0,808.9C719.3,813.1 723.1,819.5 724.5,821.6C725.9,823.7 723.3,819.7 724.5,821.6C725.7,823.5 729.6,829.8 731.5,832.9C733.4,836.0 734.1,837.9 735.8,840.0C737.4,842.1 739.8,843.2 741.4,845.6C743.0,848.0 744.5,851.0 745.7,854.1C746.9,857.2 747.8,860.5 748.5,864.0C749.2,867.5 749.4,872.0 749.9,875.3C750.4,878.6 750.4,881.4 751.3,883.8C752.2,886.1 753.6,887.5 755.5,889.4C757.4,891.3 760.2,892.8 762.6,895.1C765.0,897.4 767.1,899.8 770.0,903.1C772.9,906.4 777.3,911.9 779.9,915.0C782.5,918.1 784.1,919.2 785.5,921.7C786.9,924.2 788.0,927.1 788.4,930.1C788.8,933.1 788.4,936.5 787.7,940.0C787.0,943.5 785.4,947.8 784.1,951.3C782.8,954.8 781.0,957.9 779.9,961.2C778.8,964.5 778.0,968.3 777.8,971.1C777.6,973.9 778.1,976.5 778.5,978.1C778.9,979.7 778.7,979.0 779.9,980.9C781.1,982.8 783.6,987.3 785.5,989.4C787.4,991.5 789.4,993.2 791.2,993.7C793.0,994.2 795.4,992.8 796.2,992.6" stroke="#1a1a1a" stroke-width="1.15" fill="none" stroke-linejoin="round" stroke-linecap="round"/>
<path d="M630.6,913.0C631.8,913.8 636.4,915.6 637.6,917.6C638.8,919.6 639.2,922.3 638.0,924.7C636.8,927.1 633.8,929.8 630.6,931.8C627.4,933.8 621.9,935.0 618.8,936.5C615.7,938.0 613.8,939.1 611.8,941.0C609.8,942.9 608.6,945.2 607.0,948.0C605.4,950.8 603.6,955.3 602.0,957.6C600.4,959.9 598.3,961.3 597.6,962.0" stroke="#1a1a1a" stroke-width="1.15" fill="none" stroke-linejoin="round" stroke-linecap="round"/>
<path d="M578.8,847.0C580.8,846.2 587.3,842.8 590.6,842.0C593.9,841.2 596.6,841.5 598.5,842.0C600.4,842.5 599.1,843.1 602.0,844.7C604.9,846.3 610.1,849.4 616.0,851.8C621.9,854.1 630.7,856.6 637.6,858.8C644.5,860.9 653.9,860.4 657.6,864.7C661.3,869.0 659.8,878.7 660.0,884.7C660.2,890.8 660.6,897.1 658.8,901.0C657.0,904.9 653.7,906.0 649.0,908.0C644.3,910.0 633.7,912.2 630.6,913.0" stroke="#1a1a1a" stroke-width="1.15" fill="none" stroke-linejoin="round" stroke-linecap="round"/>
<path d="M568.6,957.0C568.1,954.7 565.8,954.0 563.9,953.0C562.1,952.1 560.0,951.3 557.6,951.1C555.3,950.8 552.3,950.9 549.8,951.5C547.3,952.1 544.8,952.9 542.7,954.6C540.7,956.3 538.6,958.8 537.3,961.7C535.9,964.5 535.2,968.5 534.9,971.9C534.6,975.3 534.6,978.9 535.3,982.1C535.9,985.2 537.3,988.4 538.8,990.7C540.3,993.0 542.8,994.7 544.3,995.8C545.8,996.8 547.1,996.6 547.8,997.0C548.6,997.3 547.1,998.1 549.0,997.7C550.9,997.4 556.9,995.9 559.2,994.6C561.5,993.3 561.7,992.5 562.7,989.9C563.8,987.3 564.8,982.8 565.5,978.9C566.2,975.0 566.5,970.0 567.1,966.4C567.6,962.7 569.2,959.2 568.6,957.0Z" fill="#f6ebe7" stroke="#1a1a1a" stroke-width="1.05" stroke-linejoin="round"/>
<path d="M551.0,962.5C551.6,962.0 553.1,962.2 554.5,962.8C555.9,963.5 557.8,964.9 559.2,966.4C560.6,967.9 561.9,969.8 562.7,971.9C563.6,974.0 564.2,976.6 564.3,978.9C564.4,981.3 564.1,983.8 563.5,986.0C562.9,988.2 561.5,990.9 560.8,992.3C560.1,993.6 558.8,993.2 559.2,993.8C559.6,994.4 562.6,995.1 563.1,995.8C563.7,996.4 562.9,996.9 562.4,997.7C561.8,998.6 559.2,999.8 560.0,1000.9C560.8,1002.0 564.6,1003.0 567.1,1004.4C569.5,1005.8 572.3,1007.6 574.9,1009.5C577.5,1011.4 580.1,1013.7 582.7,1015.8C585.4,1017.9 588.2,1020.0 590.6,1022.1C592.9,1024.2 594.9,1026.0 596.9,1028.3C598.8,1030.7 601.3,1034.3 602.4,1036.2C603.4,1038.0 603.2,1039.1 603.0,1039.3C602.8,1039.6 602.5,1038.5 601.2,1037.7C599.9,1037.0 597.6,1036.7 595.3,1035.0C593.0,1033.3 590.1,1029.7 587.5,1027.5C584.8,1025.4 582.5,1023.9 579.6,1022.1C576.7,1020.2 573.3,1018.3 570.2,1016.6C567.1,1014.9 563.4,1013.7 560.8,1011.9C558.2,1010.0 556.3,1007.8 554.5,1005.6C552.7,1003.4 551.0,1000.6 549.8,998.5C548.6,996.4 547.6,994.6 547.5,993.0C547.3,991.5 548.0,990.0 548.6,989.1C549.3,988.2 550.4,988.2 551.4,987.5C552.4,986.9 553.9,986.6 554.5,985.2C555.1,983.8 555.0,981.0 554.9,978.9C554.8,976.8 554.3,974.3 553.7,972.6C553.1,970.9 551.9,969.9 551.4,968.7C550.8,967.5 550.7,966.6 550.6,965.6C550.5,964.5 550.3,962.9 551.0,962.5Z" fill="#f9d5c8" stroke="#1a1a1a" stroke-width="1.05" stroke-linejoin="round"/>
<path d="M551.0,969.5C550.1,970.0 548.4,972.4 547.5,974.2C546.5,976.0 545.4,978.5 545.1,980.5C544.8,982.5 545.2,984.7 545.9,986.0C546.5,987.3 547.8,988.2 549.0,988.3C550.2,988.5 552.0,987.8 552.9,986.8C553.9,985.7 554.6,983.9 554.9,982.1C555.2,980.2 554.9,977.6 554.5,975.8C554.1,974.0 553.1,972.1 552.5,971.1C552.0,970.0 551.8,969.0 551.0,969.5Z" fill="#9c968a" stroke="#3a3a3a" stroke-width="0.7"/>
<path d="M566.5,969.4C566.1,972.0 566.2,978.5 567.9,983.5C569.5,988.5 572.9,993.7 576.4,999.1C579.9,1004.5 585.1,1010.4 589.1,1016.0C593.1,1021.6 597.1,1027.7 600.4,1032.9C603.7,1038.1 606.2,1042.8 608.8,1047.1C611.4,1051.3 613.0,1054.2 615.9,1058.4C618.8,1062.6 623.1,1067.3 626.0,1072.0C628.9,1076.7 632.1,1084.6 633.5,1086.6C634.9,1088.6 635.2,1086.6 634.5,1084.0C633.8,1081.4 631.3,1075.7 629.0,1071.0C626.7,1066.3 623.1,1061.2 620.5,1056.0C617.9,1050.8 615.9,1045.3 613.5,1040.0C611.1,1034.7 608.6,1029.3 606.0,1024.0C603.4,1018.7 601.0,1013.3 598.0,1008.0C595.0,1002.7 591.3,997.0 588.0,992.0C584.7,987.0 581.0,982.0 578.0,978.0C575.0,974.0 571.9,969.4 570.0,968.0C568.1,966.6 566.9,966.8 566.5,969.4Z" fill="#fdf3ef" stroke="#1a1a1a" stroke-width="1.05" stroke-linejoin="round"/>
<path d="M534.0,1041.4C534.2,1040.0 535.6,1039.2 538.2,1038.6C540.8,1038.0 546.2,1038.9 549.5,1037.9C552.8,1037.0 556.2,1035.1 558.0,1032.9C559.8,1030.7 558.7,1027.1 560.1,1024.5C561.5,1021.9 563.5,1017.9 566.5,1017.4C569.5,1016.9 574.5,1019.2 577.8,1021.6C581.1,1024.0 584.3,1028.7 586.2,1031.5C588.1,1034.3 589.1,1036.7 589.1,1038.6C589.1,1040.5 587.6,1041.4 586.2,1042.8C584.8,1044.2 583.4,1045.9 580.6,1047.1C577.8,1048.3 573.3,1049.2 569.3,1049.9C565.3,1050.6 560.6,1051.3 556.6,1051.3C552.6,1051.3 548.6,1050.6 545.3,1049.9C542.0,1049.2 538.7,1048.5 536.8,1047.1C534.9,1045.7 533.8,1042.8 534.0,1041.4Z" fill="#f9ece8" stroke="#1a1a1a" stroke-width="1.05" stroke-linejoin="round"/>
<path d="M572.1,1075.3C572.1,1077.4 575.0,1080.5 577.8,1082.4C580.6,1084.3 585.3,1086.4 589.1,1086.6C592.9,1086.8 597.4,1085.7 600.4,1083.8C603.4,1081.9 606.5,1078.1 607.4,1075.3C608.3,1072.5 607.2,1069.1 606.0,1066.8C604.8,1064.5 602.3,1063.1 600.4,1061.2C598.5,1059.3 596.6,1055.0 594.7,1055.5C592.8,1056.0 591.9,1061.7 589.1,1064.0C586.3,1066.3 580.6,1067.7 577.8,1069.6C575.0,1071.5 572.1,1073.2 572.1,1075.3Z" fill="#f7bfa3" stroke="#1a1a1a" stroke-width="1.05" stroke-linejoin="round"/>
<path d="M569.3,1054.1C571.6,1051.5 577.3,1049.4 580.6,1047.1C583.9,1044.8 586.8,1040.0 589.1,1040.0C591.5,1040.0 593.8,1044.5 594.7,1047.1C595.6,1049.7 595.6,1052.7 594.7,1055.5C593.8,1058.3 591.9,1061.7 589.1,1064.0C586.3,1066.3 581.6,1067.9 577.8,1069.6C574.0,1071.2 570.7,1072.7 566.5,1073.9C562.3,1075.1 555.7,1076.2 552.4,1076.7C549.1,1077.2 545.8,1077.6 546.7,1076.7C547.6,1075.8 554.7,1073.4 558.0,1071.1C561.3,1068.8 564.6,1065.4 566.5,1062.6C568.4,1059.8 566.9,1056.7 569.3,1054.1Z" fill="#fbf1ee" stroke="#1a1a1a" stroke-width="1.05" stroke-linejoin="round"/>
<path d="M529.8,1069.6C530.6,1067.1 532.6,1063.5 535.4,1061.2C538.2,1058.9 542.7,1056.8 546.7,1055.5C550.7,1054.2 555.6,1053.6 559.4,1053.4C563.2,1053.2 568.1,1052.6 569.3,1054.1C570.5,1055.6 568.4,1059.8 566.5,1062.6C564.6,1065.4 561.3,1068.8 558.0,1071.1C554.7,1073.4 550.2,1075.4 546.7,1076.7C543.2,1078.0 539.5,1078.9 536.8,1078.8C534.1,1078.7 531.7,1077.5 530.5,1076.0C529.3,1074.5 529.0,1072.1 529.8,1069.6Z" fill="url(#gCond)" stroke="#1a1a1a" stroke-width="1.05" stroke-linejoin="round"/>
<path d="M566.5,1079.5 Q580.6,1076.5 589.1,1070.5" stroke="#1a1a1a" stroke-width="1.15" fill="none" stroke-linejoin="round" stroke-linecap="round" stroke-width="1.2"/>
<path d="M384,1020 Q397,1031 405,1045" stroke="#1a1a1a" stroke-width="1.15" fill="none" stroke-linejoin="round" stroke-linecap="round" stroke-width="1.2"/>
<path d="M607.6,1111.6C607.4,1110.1 608.5,1107.4 609.8,1106.1C611.1,1104.8 613.3,1103.9 615.3,1103.9C617.3,1103.9 619.8,1105.0 621.8,1106.1C623.8,1107.2 624.9,1109.4 627.3,1110.5C629.7,1111.6 633.2,1112.0 636.1,1112.7C639.0,1113.4 642.3,1114.0 644.9,1114.4C647.5,1114.8 649.7,1115.2 651.5,1114.9C653.3,1114.6 654.1,1112.7 655.9,1112.7C657.7,1112.7 660.3,1113.6 662.5,1114.9C664.7,1116.2 666.9,1118.8 669.1,1120.4C671.3,1122.1 673.2,1123.7 675.6,1124.8C678.0,1125.9 681.1,1125.9 683.3,1127.0C685.5,1128.1 687.5,1129.4 688.8,1131.4C690.1,1133.4 690.3,1136.4 691.0,1139.1C691.7,1141.8 693.0,1145.2 693.2,1147.8C693.4,1150.3 693.0,1152.6 692.1,1154.4C691.2,1156.2 689.7,1157.9 687.7,1158.8C685.7,1159.7 682.7,1159.8 680.0,1159.9C677.3,1160.0 674.2,1160.1 671.3,1159.4C668.4,1158.7 665.4,1157.1 662.5,1155.5C659.6,1153.9 656.6,1151.7 653.7,1150.0C650.8,1148.3 647.8,1146.9 644.9,1145.6C642.0,1144.3 639.0,1142.9 636.1,1142.4C633.2,1141.9 630.0,1142.5 627.3,1142.4C624.5,1142.3 621.8,1142.3 619.6,1141.8C617.4,1141.2 615.6,1140.3 614.2,1139.1C612.8,1137.9 611.7,1136.2 611.4,1134.7C611.1,1133.2 611.5,1131.3 612.5,1130.3C613.5,1129.3 615.7,1128.6 617.4,1128.6C619.1,1128.6 621.1,1129.3 622.9,1130.3C624.7,1131.3 626.0,1133.8 628.4,1134.7C630.8,1135.6 634.1,1135.1 637.2,1135.8C640.3,1136.5 644.0,1138.1 647.1,1139.1C650.2,1140.1 654.8,1142.2 655.9,1141.8C657.0,1141.4 654.4,1138.3 653.7,1136.9C653.0,1135.5 653.3,1135.2 651.5,1133.6C649.7,1131.9 645.6,1129.0 642.7,1127.0C639.8,1125.0 636.8,1123.2 633.9,1121.5C631.0,1119.8 627.9,1117.8 625.1,1117.1C622.4,1116.4 619.8,1117.5 617.4,1117.1C615.0,1116.7 612.5,1115.8 610.9,1114.9C609.3,1114.0 607.8,1113.1 607.6,1111.6Z" fill="#f4a183" stroke="#1a1a1a" stroke-width="1.05" stroke-linejoin="round"/>
<path d="M653,1116 Q658,1122 661,1123" stroke="#1a1a1a" stroke-width="1.15" fill="none" stroke-linejoin="round" stroke-linecap="round"/>
<path d="M655.9,1135 Q668,1146 686,1151 L686.5,1157" stroke="#1a1a1a" stroke-width="1.15" fill="none" stroke-linejoin="round" stroke-linecap="round"/>
<path d="M652.7,693 L651.3,778.5" stroke="#1a1a1a" stroke-width="1.05" fill="none"/>
<path d="M310.6,779.3 L467.6,779.3" stroke="#1a1a1a" stroke-width="1.05" fill="none"/>
<path d="M311,941.2 L524,941.2" stroke="#1a1a1a" stroke-width="1.05" fill="none"/>
<path d="M310,1040 L411,1040" stroke="#1a1a1a" stroke-width="1.05" fill="none"/>
<path d="M310,1113.3 L581.8,1058.8" stroke="#1a1a1a" stroke-width="1.05" fill="none"/>
<path d="M783.5,792.5 L640,889" stroke="#1a1a1a" stroke-width="1.05" fill="none"/>
<path d="M788,849.4 L710.6,911.8" stroke="#1a1a1a" stroke-width="1.05" fill="none"/>
<path d="M818.8,884.7 L729.4,909.4" stroke="#1a1a1a" stroke-width="1.05" fill="none"/>
<path d="M837.6,913.4 L778.8,918.4" stroke="#1a1a1a" stroke-width="1.05" fill="none"/>
<path d="M860.5,981.5 L713,943.5" stroke="#1a1a1a" stroke-width="1.05" fill="none"/>
<path d="M848,1029.4 L757.6,989.9" stroke="#1a1a1a" stroke-width="1.05" fill="none"/>
<path d="M860.5,1140 L744.7,1080.5" stroke="#1a1a1a" stroke-width="1.05" fill="none"/>
<path d="M782,1202.5 L677.8,1139.1" stroke="#1a1a1a" stroke-width="1.05" fill="none"/>
<text x="598" y="687" font-size="20.5" textLength="123" lengthAdjust="spacingAndGlyphs" fill="#1a1a1a">Frontal bone</text>
<text x="258" y="772.5" font-size="20.5" textLength="74" lengthAdjust="spacingAndGlyphs" fill="#1a1a1a">Parietal</text>
<text x="258" y="796.5" font-size="20.5" textLength="47" lengthAdjust="spacingAndGlyphs" fill="#1a1a1a">bone</text>
<text x="245" y="934.5" font-size="20.5" textLength="91" lengthAdjust="spacingAndGlyphs" fill="#1a1a1a">Temporal</text>
<text x="245" y="958.5" font-size="20.5" textLength="47" lengthAdjust="spacingAndGlyphs" fill="#1a1a1a">bone</text>
<text x="245" y="1030.5" font-size="20.5" textLength="85" lengthAdjust="spacingAndGlyphs" fill="#1a1a1a">Occipital</text>
<text x="245" y="1054.5" font-size="20.5" textLength="47" lengthAdjust="spacingAndGlyphs" fill="#1a1a1a">bone</text>
<text x="233" y="1107.5" font-size="20.5" textLength="85.5" lengthAdjust="spacingAndGlyphs" fill="#1a1a1a">Occipital</text>
<text x="233" y="1131.5" font-size="20.5" textLength="74" lengthAdjust="spacingAndGlyphs" fill="#1a1a1a">condyle</text>
<text x="787" y="800" font-size="20.5" textLength="144.5" lengthAdjust="spacingAndGlyphs" fill="#1a1a1a">Sphenoid bone</text>
<text x="785" y="845.5" font-size="20.5" textLength="136" lengthAdjust="spacingAndGlyphs" fill="#1a1a1a">Ethmoid bone</text>
<text x="815" y="881.5" font-size="20.5" textLength="137.5" lengthAdjust="spacingAndGlyphs" fill="#1a1a1a">Lacrimal bone</text>
<text x="838" y="918" font-size="20.5" textLength="106.5" lengthAdjust="spacingAndGlyphs" fill="#1a1a1a">Nasal bone</text>
<text x="865" y="988.5" font-size="20.5" textLength="151.5" lengthAdjust="spacingAndGlyphs" fill="#1a1a1a">Zygomatic bone</text>
<text x="857" y="1048" font-size="20.5" textLength="69.5" lengthAdjust="spacingAndGlyphs" fill="#1a1a1a">Maxilla</text>
<text x="864" y="1146.5" font-size="20.5" textLength="89.5" lengthAdjust="spacingAndGlyphs" fill="#1a1a1a">Mandible</text>
<text x="785" y="1210.5" font-size="20.5" textLength="109.5" lengthAdjust="spacingAndGlyphs" fill="#1a1a1a">Hyoid bone</text>
<g fill="#000" fill-opacity="0.125">
<text transform="translate(321.9,1358.2) rotate(-45)" font-size="112" word-spacing="6.2" style="font-family:'Liberation Sans',sans-serif">not to be republished</text>
<text transform="translate(450.9,1050.7) rotate(-45)" font-size="86" style="font-family:'Liberation Sans',sans-serif">©</text>
<text transform="translate(536.0,978.6) rotate(-45)" font-size="112" textLength="334" lengthAdjust="spacingAndGlyphs" style="font-family:'Liberation Sans',sans-serif">NCERT</text>
</g>
</svg>
<div class="ln" style="left:125px;top:311.44px;width:673.02px;font-size:23px;transform:scaleX(1.1122);text-align:justify;text-align-last:justify;letter-spacing:0.2px;">Skeletal system consists of a framework of bones and a few cartilages.</div>
<div class="ln" style="left:125px;top:340.44px;width:645.26px;font-size:23px;transform:scaleX(1.1600);text-align:justify;text-align-last:justify;letter-spacing:0.2px;">This system has a significant role in movement shown by the body.</div>
<div class="ln" style="left:125px;top:369.44px;width:674.87px;font-size:23px;transform:scaleX(1.1113);text-align:justify;text-align-last:justify;letter-spacing:0.2px;">Imagine chewing food without&nbsp; jaw bones and walking around without</div>
<div class="ln" style="left:125px;top:398.44px;width:661.98px;font-size:23px;transform:scaleX(1.1307);text-align:justify;text-align-last:justify;letter-spacing:0.2px;">the limb bones. Bone and cartilage are specialised connective tissues.</div>
<div class="ln" style="left:125px;top:427.44px;width:696.68px;font-size:23px;transform:scaleX(1.0765);text-align:justify;text-align-last:justify;letter-spacing:0.2px;">The former has a very hard matrix due to calcium salts in it and the latter</div>
<div class="ln" style="left:125px;top:456.44px;width:654.97px;font-size:23px;transform:scaleX(1.1420);text-align:justify;text-align-last:justify;letter-spacing:0.2px;">has slightly pliable matrix due to chondroitin salts. In human beings,</div>
<div class="ln" style="left:125px;top:485.44px;width:673.92px;font-size:23px;transform:scaleX(1.1129);text-align:justify;text-align-last:justify;letter-spacing:0.2px;">this system is made up of 206 bones and a few cartilages. It is grouped</div>
<div class="ln" style="left:125px;top:514.44px;width:663.53px;font-size:23px;transform:scaleX(1.0949);text-align:justify;text-align-last:justify;letter-spacing:0.2px;">into two principal divisions – the axial and the appendicular skeleton.</div>
<div class="ln" style="left:163px;top:543.44px;width:637.75px;font-size:23px;transform:scaleX(1.1164);text-align:justify;text-align-last:justify;letter-spacing:0.2px;"><b>Axial skeleton</b> comprises 80 bones distributed along the main axis</div>
<div class="ln" style="left:125px;top:572.44px;width:652.13px;font-size:23px;transform:scaleX(1.1501);text-align:justify;text-align-last:justify;letter-spacing:0.2px;">of the body. The skull, vertebral column, sternum and ribs constitute</div>
<div class="ln" style="left:125px;top:601.44px;width:706.61px;font-size:23px;transform:scaleX(1.0621);text-align:justify;text-align-last:justify;letter-spacing:0.2px;">axial skeleton. The <b>skull</b> (Figure 20.6) is composed of two sets of bones –</div>
<div class="ln" style="left:125px;top:1303.04px;width:690.89px;font-size:23px;transform:scaleX(1.0827);text-align:justify;text-align-last:justify;letter-spacing:0.2px;">cranial and facial, that totals to 22 bones. Cranial bones are 8 in number.</div>
<div class="ln" style="left:125px;top:1332.04px;width:693.04px;font-size:23px;transform:scaleX(1.0822);text-align:justify;text-align-last:justify;letter-spacing:0.2px;">They form the hard protective outer covering, cranium for the brain. The</div>
<div class="ln" style="left:125px;top:1361.04px;width:701.68px;font-size:23px;transform:scaleX(1.0689);text-align:justify;text-align-last:justify;letter-spacing:0.2px;">facial region is made up of 14 skeletal elements which form the front part</div>
<div class="ln" style="left:125px;top:1390.04px;width:699.37px;font-size:23px;transform:scaleX(1.0724);text-align:justify;text-align-last:justify;letter-spacing:0.2px;">of the skull. A single U-shaped bone called hyoid is present at the base of</div>
<div class="ln" style="left:125px;top:1419.04px;width:655.06px;font-size:23px;transform:scaleX(1.1449);text-align:justify;text-align-last:justify;letter-spacing:0.2px;">the buccal cavity and it is also included in the skull. Each middle ear</div>
<div class="ln" style="left:125px;top:1448.04px;width:697.18px;font-size:23px;transform:scaleX(1.0758);text-align:justify;text-align-last:justify;letter-spacing:0.2px;">contains three tiny bones – Malleus, Incus and Stapes, collectively called</div>
<div class="ln" style="left:125px;top:1477.04px;width:692.48px;font-size:23px;transform:scaleX(1.0831);text-align:justify;text-align-last:justify;letter-spacing:0.2px;"><b>Ear Ossicles</b>. The skull region articulates with the superior region of the</div>
<div class="ln" id="rhead" style="left:176px;top:167.21px;font-size:22.5px;transform:scaleX(0.9681);">L<span style="font-size:17.5px">OCOMOTION AND</span> M<span style="font-size:17.5px">OVEMENT</span></div>
<div class="ln" id="pgno" style="left:1054px;top:167.91px;font-size:22.5px;transform:scaleX(1.3630);font-weight:bold;color:#111;-webkit-text-stroke:0.5px #111;">309</div>
<div class="ln" id="h1" style="left:125.5px;top:254.89px;font-size:27px;transform:scaleX(1.2529);font-weight:bold;color:#1b9ad7;-webkit-text-stroke:0.7px #1b9ad7;">20.3</div>
<div class="ln" id="h2" style="left:213px;top:254.89px;font-size:27px;transform:scaleX(0.9912);font-weight:bold;color:#1b9ad7;-webkit-text-stroke:0.7px #1b9ad7;">S<span style="font-size:20.5px">KELETAL</span> S<span style="font-size:20.5px">YSTEM</span></div>
<div class="ln" id="cap" style="left:377px;top:1234.92px;width:102.36px;font-size:19.5px;transform:scaleX(1.1870);text-align:justify;text-align-last:justify;letter-spacing:0.3px;"><b>Figure&nbsp; 20.6</b></div>
<div class="ln" id="cap2" style="left:509px;top:1234.92px;width:311.15px;font-size:19.5px;transform:scaleX(1.1281);text-align:justify;text-align-last:justify;letter-spacing:0.3px;">Diagrammatic&nbsp; view&nbsp; of&nbsp; human&nbsp; skull</div>

<div class="abs" id="yr" style="left:607px;top:1649px;font-family:'Liberation Sans',sans-serif;font-size:16.3px;line-height:20px;color:#111;white-space:nowrap;">2020-21</div>
</body></html>
